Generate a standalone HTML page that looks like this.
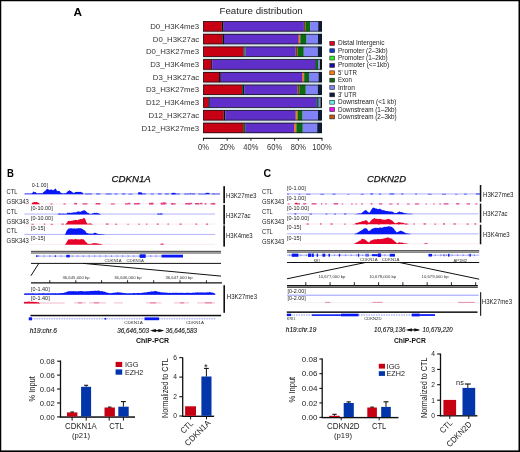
<!DOCTYPE html>
<html><head><meta charset="utf-8"><style>
html,body{margin:0;padding:0;background:#fff;}
body{width:520px;height:452px;overflow:hidden;position:relative;font-family:"Liberation Sans", sans-serif;}
svg{position:absolute;left:0;top:0;will-change:transform;}
</style></head><body>
<svg width="520" height="452" viewBox="0 0 520 452" font-family='"Liberation Sans", sans-serif'>
<rect x="0" y="0" width="520" height="452" fill="#fff"/>
<text x="73.50" y="15.80" font-size="11.2" text-anchor="start" font-weight="bold" font-style="normal" fill="#000" textLength="8.50" lengthAdjust="spacingAndGlyphs" >A</text>
<text x="219.50" y="13.75" font-size="9.7" text-anchor="start" font-weight="normal" font-style="normal" fill="#222" textLength="83.20" lengthAdjust="spacingAndGlyphs" >Feature distribution</text>
<rect x="203.20" y="21.00" width="118.80" height="112.30" fill="#d6e8e6" />
<text x="199.20" y="28.90" font-size="7.8" text-anchor="end" font-weight="normal" font-style="normal" fill="#333" >D0_H3K4me3</text>
<rect x="203.20" y="21.20" width="18.60" height="10.30" fill="#c80014" />
<rect x="221.80" y="21.20" width="1.80" height="10.30" fill="#101010" />
<rect x="223.60" y="21.20" width="80.30" height="10.30" fill="#602fc9" />
<rect x="303.90" y="21.20" width="1.60" height="10.30" fill="#8a3c08" />
<rect x="305.50" y="21.20" width="4.80" height="10.30" fill="#0a6a14" />
<rect x="310.30" y="21.20" width="7.90" height="10.30" fill="#8282f8" />
<rect x="318.20" y="21.20" width="3.80" height="10.30" fill="#0c1a3c" />
<rect x="203.55" y="21.55" width="118.10" height="9.60" fill="none" stroke="#151515" stroke-width="0.7"/>
<text x="199.20" y="41.60" font-size="7.8" text-anchor="end" font-weight="normal" font-style="normal" fill="#333" >D0_H3K27ac</text>
<rect x="203.20" y="33.90" width="19.20" height="10.30" fill="#c80014" />
<rect x="222.40" y="33.90" width="1.60" height="10.30" fill="#101010" />
<rect x="224.00" y="33.90" width="74.80" height="10.30" fill="#602fc9" />
<rect x="298.80" y="33.90" width="1.50" height="10.30" fill="#ff7a10" />
<rect x="300.30" y="33.90" width="6.30" height="10.30" fill="#0a6a14" />
<rect x="306.60" y="33.90" width="11.40" height="10.30" fill="#8282f8" />
<rect x="318.00" y="33.90" width="4.00" height="10.30" fill="#0c1a3c" />
<rect x="203.55" y="34.25" width="118.10" height="9.60" fill="none" stroke="#151515" stroke-width="0.7"/>
<text x="199.20" y="54.30" font-size="7.8" text-anchor="end" font-weight="normal" font-style="normal" fill="#333" >D0_H3K27me3</text>
<rect x="203.20" y="46.60" width="40.30" height="10.30" fill="#c80014" />
<rect x="243.50" y="46.60" width="1.00" height="10.30" fill="#0c1a3c" />
<rect x="244.50" y="46.60" width="1.00" height="10.30" fill="#0a6a14" />
<rect x="245.50" y="46.60" width="50.20" height="10.30" fill="#602fc9" />
<rect x="295.70" y="46.60" width="1.90" height="10.30" fill="#8a3c08" />
<rect x="297.60" y="46.60" width="6.20" height="10.30" fill="#0a6a14" />
<rect x="303.80" y="46.60" width="14.00" height="10.30" fill="#8282f8" />
<rect x="317.80" y="46.60" width="4.20" height="10.30" fill="#0c1a3c" />
<rect x="203.55" y="46.95" width="118.10" height="9.60" fill="none" stroke="#151515" stroke-width="0.7"/>
<text x="199.20" y="67.00" font-size="7.8" text-anchor="end" font-weight="normal" font-style="normal" fill="#333" >D3_H3K4me3</text>
<rect x="203.20" y="59.30" width="7.90" height="10.30" fill="#c80014" />
<rect x="211.10" y="59.30" width="1.10" height="10.30" fill="#101010" />
<rect x="212.20" y="59.30" width="103.10" height="10.30" fill="#602fc9" />
<rect x="315.30" y="59.30" width="0.70" height="10.30" fill="#0c1a3c" />
<rect x="316.00" y="59.30" width="2.50" height="10.30" fill="#0a6a14" />
<rect x="318.50" y="59.30" width="1.50" height="10.30" fill="#8282f8" />
<rect x="320.00" y="59.30" width="2.00" height="10.30" fill="#101010" />
<rect x="203.55" y="59.65" width="118.10" height="9.60" fill="none" stroke="#151515" stroke-width="0.7"/>
<text x="199.20" y="79.70" font-size="7.8" text-anchor="end" font-weight="normal" font-style="normal" fill="#333" >D3_H3K27ac</text>
<rect x="203.20" y="72.00" width="15.80" height="10.30" fill="#c80014" />
<rect x="219.00" y="72.00" width="1.80" height="10.30" fill="#101010" />
<rect x="220.80" y="72.00" width="81.80" height="10.30" fill="#602fc9" />
<rect x="302.60" y="72.00" width="1.60" height="10.30" fill="#ff7a10" />
<rect x="304.20" y="72.00" width="4.80" height="10.30" fill="#0a6a14" />
<rect x="309.00" y="72.00" width="9.50" height="10.30" fill="#8282f8" />
<rect x="318.50" y="72.00" width="3.50" height="10.30" fill="#0c1a3c" />
<rect x="203.55" y="72.35" width="118.10" height="9.60" fill="none" stroke="#151515" stroke-width="0.7"/>
<text x="199.20" y="92.40" font-size="7.8" text-anchor="end" font-weight="normal" font-style="normal" fill="#333" >D3_H3K27me3</text>
<rect x="203.20" y="84.70" width="38.80" height="10.30" fill="#c80014" />
<rect x="242.00" y="84.70" width="1.00" height="10.30" fill="#0a6a14" />
<rect x="243.00" y="84.70" width="1.20" height="10.30" fill="#0c1a3c" />
<rect x="244.20" y="84.70" width="53.30" height="10.30" fill="#602fc9" />
<rect x="297.50" y="84.70" width="1.90" height="10.30" fill="#8a3c08" />
<rect x="299.40" y="84.70" width="6.40" height="10.30" fill="#0a6a14" />
<rect x="305.80" y="84.70" width="12.00" height="10.30" fill="#8282f8" />
<rect x="317.80" y="84.70" width="4.20" height="10.30" fill="#0c1a3c" />
<rect x="203.55" y="85.05" width="118.10" height="9.60" fill="none" stroke="#151515" stroke-width="0.7"/>
<text x="199.20" y="105.10" font-size="7.8" text-anchor="end" font-weight="normal" font-style="normal" fill="#333" >D12_H3K4me3</text>
<rect x="203.20" y="97.40" width="5.10" height="10.30" fill="#c80014" />
<rect x="208.30" y="97.40" width="1.50" height="10.30" fill="#101010" />
<rect x="209.80" y="97.40" width="107.10" height="10.30" fill="#602fc9" />
<rect x="316.90" y="97.40" width="1.90" height="10.30" fill="#0a6a14" />
<rect x="318.80" y="97.40" width="1.70" height="10.30" fill="#8282f8" />
<rect x="320.50" y="97.40" width="1.50" height="10.30" fill="#101010" />
<rect x="203.55" y="97.75" width="118.10" height="9.60" fill="none" stroke="#151515" stroke-width="0.7"/>
<text x="199.20" y="117.80" font-size="7.8" text-anchor="end" font-weight="normal" font-style="normal" fill="#333" >D12_H3K27ac</text>
<rect x="203.20" y="110.10" width="20.40" height="10.30" fill="#c80014" />
<rect x="223.60" y="110.10" width="1.80" height="10.30" fill="#101010" />
<rect x="225.40" y="110.10" width="70.40" height="10.30" fill="#602fc9" />
<rect x="295.80" y="110.10" width="1.70" height="10.30" fill="#ff7a10" />
<rect x="297.50" y="110.10" width="5.10" height="10.30" fill="#0a6a14" />
<rect x="302.60" y="110.10" width="15.40" height="10.30" fill="#8282f8" />
<rect x="318.00" y="110.10" width="4.00" height="10.30" fill="#0c1a3c" />
<rect x="203.55" y="110.45" width="118.10" height="9.60" fill="none" stroke="#151515" stroke-width="0.7"/>
<text x="199.20" y="130.50" font-size="7.8" text-anchor="end" font-weight="normal" font-style="normal" fill="#333" >D12_H3K27me3</text>
<rect x="203.20" y="122.80" width="39.90" height="10.30" fill="#c80014" />
<rect x="243.10" y="122.80" width="1.20" height="10.30" fill="#0a6a14" />
<rect x="244.30" y="122.80" width="1.20" height="10.30" fill="#101010" />
<rect x="245.50" y="122.80" width="49.10" height="10.30" fill="#602fc9" />
<rect x="294.60" y="122.80" width="1.80" height="10.30" fill="#ff7a10" />
<rect x="296.40" y="122.80" width="6.40" height="10.30" fill="#0a6a14" />
<rect x="302.80" y="122.80" width="14.40" height="10.30" fill="#8282f8" />
<rect x="317.20" y="122.80" width="4.80" height="10.30" fill="#0c1a3c" />
<rect x="203.55" y="123.15" width="118.10" height="9.60" fill="none" stroke="#151515" stroke-width="0.7"/>
<line x1="202.90" y1="138.40" x2="322.30" y2="138.40" stroke="#222" stroke-width="1.2" />
<line x1="203.50" y1="138.00" x2="203.50" y2="140.70" stroke="#222" stroke-width="1.0" />
<text x="203.50" y="149.80" font-size="8.2" text-anchor="middle" font-weight="normal" font-style="normal" fill="#333" textLength="10.90" lengthAdjust="spacingAndGlyphs" >0%</text>
<line x1="227.20" y1="138.00" x2="227.20" y2="140.70" stroke="#222" stroke-width="1.0" />
<text x="227.20" y="149.80" font-size="8.2" text-anchor="middle" font-weight="normal" font-style="normal" fill="#333" textLength="15.10" lengthAdjust="spacingAndGlyphs" >20%</text>
<line x1="250.90" y1="138.00" x2="250.90" y2="140.70" stroke="#222" stroke-width="1.0" />
<text x="250.90" y="149.80" font-size="8.2" text-anchor="middle" font-weight="normal" font-style="normal" fill="#333" textLength="15.10" lengthAdjust="spacingAndGlyphs" >40%</text>
<line x1="274.60" y1="138.00" x2="274.60" y2="140.70" stroke="#222" stroke-width="1.0" />
<text x="274.60" y="149.80" font-size="8.2" text-anchor="middle" font-weight="normal" font-style="normal" fill="#333" textLength="15.10" lengthAdjust="spacingAndGlyphs" >60%</text>
<line x1="298.30" y1="138.00" x2="298.30" y2="140.70" stroke="#222" stroke-width="1.0" />
<text x="298.30" y="149.80" font-size="8.2" text-anchor="middle" font-weight="normal" font-style="normal" fill="#333" textLength="15.10" lengthAdjust="spacingAndGlyphs" >80%</text>
<line x1="322.00" y1="138.00" x2="322.00" y2="140.70" stroke="#222" stroke-width="1.0" />
<text x="322.00" y="149.80" font-size="8.2" text-anchor="middle" font-weight="normal" font-style="normal" fill="#333" textLength="19.40" lengthAdjust="spacingAndGlyphs" >100%</text>
<rect x="329.8" y="41.40" width="4.8" height="3.9" fill="#e0001a" stroke="#222" stroke-width="0.6"/>
<text x="338.00" y="45.40" font-size="6.6" text-anchor="start" font-weight="normal" font-style="normal" fill="#222" textLength="46.40" lengthAdjust="spacingAndGlyphs" >Distal Intergenic</text>
<rect x="329.8" y="48.76" width="4.8" height="3.9" fill="#0a3cc8" stroke="#222" stroke-width="0.6"/>
<text x="338.00" y="52.76" font-size="6.6" text-anchor="start" font-weight="normal" font-style="normal" fill="#222" textLength="49.70" lengthAdjust="spacingAndGlyphs" >Promoter (2–3kb)</text>
<rect x="329.8" y="56.12" width="4.8" height="3.9" fill="#33ee22" stroke="#222" stroke-width="0.6"/>
<text x="338.00" y="60.12" font-size="6.6" text-anchor="start" font-weight="normal" font-style="normal" fill="#222" textLength="49.70" lengthAdjust="spacingAndGlyphs" >Promoter (1–2kb)</text>
<rect x="329.8" y="63.48" width="4.8" height="3.9" fill="#1c0aa0" stroke="#222" stroke-width="0.6"/>
<text x="338.00" y="67.48" font-size="6.6" text-anchor="start" font-weight="normal" font-style="normal" fill="#222" textLength="51.10" lengthAdjust="spacingAndGlyphs" >Promoter (&lt;=1kb)</text>
<rect x="329.8" y="70.84" width="4.8" height="3.9" fill="#ff7a10" stroke="#222" stroke-width="0.6"/>
<text x="338.00" y="74.84" font-size="6.6" text-anchor="start" font-weight="normal" font-style="normal" fill="#222" textLength="18.90" lengthAdjust="spacingAndGlyphs" >5' UTR</text>
<rect x="329.8" y="78.20" width="4.8" height="3.9" fill="#0a6a14" stroke="#222" stroke-width="0.6"/>
<text x="338.00" y="82.20" font-size="6.6" text-anchor="start" font-weight="normal" font-style="normal" fill="#222" textLength="13.90" lengthAdjust="spacingAndGlyphs" >Exon</text>
<rect x="329.8" y="85.56" width="4.8" height="3.9" fill="#8282f8" stroke="#222" stroke-width="0.6"/>
<text x="338.00" y="89.56" font-size="6.6" text-anchor="start" font-weight="normal" font-style="normal" fill="#222" textLength="16.90" lengthAdjust="spacingAndGlyphs" >Intron</text>
<rect x="329.8" y="92.92" width="4.8" height="3.9" fill="#0c1a3c" stroke="#222" stroke-width="0.6"/>
<text x="338.00" y="96.92" font-size="6.6" text-anchor="start" font-weight="normal" font-style="normal" fill="#222" textLength="18.50" lengthAdjust="spacingAndGlyphs" >3' UTR</text>
<rect x="329.8" y="100.28" width="4.8" height="3.9" fill="#66f0f0" stroke="#222" stroke-width="0.6"/>
<text x="338.00" y="104.28" font-size="6.6" text-anchor="start" font-weight="normal" font-style="normal" fill="#222" textLength="58.30" lengthAdjust="spacingAndGlyphs" >Downstream (&lt;1 kb)</text>
<rect x="329.8" y="107.64" width="4.8" height="3.9" fill="#f010f0" stroke="#222" stroke-width="0.6"/>
<text x="338.00" y="111.64" font-size="6.6" text-anchor="start" font-weight="normal" font-style="normal" fill="#222" textLength="58.70" lengthAdjust="spacingAndGlyphs" >Downstream (1–2kb)</text>
<rect x="329.8" y="115.00" width="4.8" height="3.9" fill="#cc5510" stroke="#222" stroke-width="0.6"/>
<text x="338.00" y="119.00" font-size="6.6" text-anchor="start" font-weight="normal" font-style="normal" fill="#222" textLength="58.70" lengthAdjust="spacingAndGlyphs" >Downstream (2–3kb)</text>
<text x="7.10" y="176.60" font-size="11" text-anchor="start" font-weight="bold" font-style="normal" fill="#000" textLength="6.90" lengthAdjust="spacingAndGlyphs" >B</text>
<text x="111.50" y="181.80" font-size="9.6" text-anchor="start" font-weight="normal" font-style="italic" fill="#111" textLength="39.30" lengthAdjust="spacingAndGlyphs" stroke="#111" stroke-width="0.25" >CDKN1A</text>
<text x="6.60" y="194.30" font-size="6.4" text-anchor="start" font-weight="normal" font-style="normal" fill="#222" textLength="10.80" lengthAdjust="spacingAndGlyphs" >CTL</text>
<text x="6.60" y="203.90" font-size="6.4" text-anchor="start" font-weight="normal" font-style="normal" fill="#222" textLength="22.30" lengthAdjust="spacingAndGlyphs" >GSK343</text>
<text x="6.60" y="214.00" font-size="6.4" text-anchor="start" font-weight="normal" font-style="normal" fill="#222" textLength="10.80" lengthAdjust="spacingAndGlyphs" >CTL</text>
<text x="6.60" y="223.70" font-size="6.4" text-anchor="start" font-weight="normal" font-style="normal" fill="#222" textLength="22.30" lengthAdjust="spacingAndGlyphs" >GSK343</text>
<text x="6.60" y="233.30" font-size="6.4" text-anchor="start" font-weight="normal" font-style="normal" fill="#222" textLength="10.80" lengthAdjust="spacingAndGlyphs" >CTL</text>
<text x="6.60" y="242.90" font-size="6.4" text-anchor="start" font-weight="normal" font-style="normal" fill="#222" textLength="22.30" lengthAdjust="spacingAndGlyphs" >GSK343</text>
<text x="31.70" y="186.60" font-size="5.0" text-anchor="start" font-weight="normal" font-style="normal" fill="#222" textLength="16.30" lengthAdjust="spacingAndGlyphs" >0-1.00]</text>
<text x="31.00" y="210.00" font-size="5.0" text-anchor="start" font-weight="normal" font-style="normal" fill="#222" textLength="21.70" lengthAdjust="spacingAndGlyphs" >[0-10.00]</text>
<text x="31.00" y="219.80" font-size="5.0" text-anchor="start" font-weight="normal" font-style="normal" fill="#222" textLength="21.70" lengthAdjust="spacingAndGlyphs" >[0-10.00]</text>
<text x="31.00" y="229.60" font-size="5.0" text-anchor="start" font-weight="normal" font-style="normal" fill="#222" textLength="14.00" lengthAdjust="spacingAndGlyphs" >[0-15]</text>
<text x="31.00" y="239.60" font-size="5.0" text-anchor="start" font-weight="normal" font-style="normal" fill="#222" textLength="14.00" lengthAdjust="spacingAndGlyphs" >[0-15]</text>
<line x1="24.30" y1="193.85" x2="215.00" y2="193.85" stroke="#9a9cff" stroke-width="0.75" />
<line x1="24.30" y1="203.90" x2="215.00" y2="203.90" stroke="#f6dde6" stroke-width="0.6" />
<line x1="24.30" y1="214.05" x2="215.00" y2="214.05" stroke="#9a9cff" stroke-width="0.75" />
<line x1="24.30" y1="224.10" x2="215.00" y2="224.10" stroke="#f6dde6" stroke-width="0.6" />
<line x1="24.30" y1="234.45" x2="215.00" y2="234.45" stroke="#9a9cff" stroke-width="0.75" />
<line x1="24.30" y1="244.40" x2="215.00" y2="244.40" stroke="#f6dde6" stroke-width="0.6" />
<path d="M24.30,194.20L24.30,194.20L24.80,193.73L25.30,193.47L25.80,193.51L26.30,193.69L26.80,193.60L27.30,193.62L27.80,193.55L28.30,193.50L28.80,193.75L29.30,193.77L29.80,193.48L30.30,193.62L30.80,193.51L31.30,193.78L31.80,193.36L32.30,192.75L32.80,192.64L33.30,191.85L33.80,191.51L34.30,192.00L34.80,192.20L35.30,192.10L35.80,192.24L36.30,193.07L36.80,193.37L37.30,193.25L37.80,193.48L38.30,193.37L38.80,193.24L39.30,193.20L39.80,193.36L40.30,193.36L40.80,193.37L41.30,193.22L41.80,193.33L42.30,193.49L42.80,192.70L43.30,192.37L43.80,191.81L44.30,191.66L44.80,190.80L45.30,190.51L45.80,190.58L46.30,189.85L46.80,188.87L47.30,188.77L47.80,188.97L48.30,189.61L48.80,189.54L49.30,189.70L49.80,189.99L50.30,189.80L50.80,189.55L51.30,189.50L51.80,189.63L52.30,189.67L52.80,190.20L53.30,190.27L53.80,189.75L54.30,189.53L54.80,189.23L55.30,188.55L55.80,188.82L56.30,189.74L56.80,190.58L57.30,191.04L57.80,191.16L58.30,190.95L58.80,191.06L59.30,191.08L59.80,191.37L60.30,192.24L60.80,192.83L61.30,193.04L61.80,193.17L62.30,193.36L62.80,193.45L63.30,193.56L63.80,193.40L64.30,193.17L64.80,193.27L65.30,193.38L65.80,192.93L66.30,192.88L66.80,192.29L67.30,191.60L67.80,191.42L68.30,191.09L68.80,190.81L69.30,190.25L69.80,190.18L70.30,191.06L70.80,190.90L71.30,191.31L71.80,191.77L72.30,192.36L72.80,192.51L73.30,192.69L73.80,192.66L74.30,192.74L74.80,192.83L75.30,192.10L75.80,192.05L76.30,192.12L76.80,191.84L77.30,191.75L77.80,191.89L78.30,192.06L78.80,192.11L79.30,192.03L79.80,191.87L80.30,191.79L80.80,192.08L81.30,192.13L81.80,192.33L82.30,192.52L82.80,192.98L83.30,193.68L83.80,194.07L84.00,194.20Z" fill="#0818f4"/>
<rect x="84.99" y="193.45" width="7.14" height="1.05" fill="#4a58f2"/>
<rect x="96.04" y="193.38" width="4.30" height="1.12" fill="#4a58f2"/>
<rect x="105.57" y="193.50" width="6.07" height="1.00" fill="#4a58f2"/>
<rect x="114.59" y="193.55" width="3.02" height="0.95" fill="#4a58f2"/>
<rect x="121.95" y="193.38" width="3.42" height="1.12" fill="#4a58f2"/>
<rect x="128.30" y="193.68" width="4.40" height="0.82" fill="#4a58f2"/>
<rect x="138.68" y="193.35" width="7.43" height="1.15" fill="#4a58f2"/>
<rect x="150.58" y="193.57" width="3.20" height="0.93" fill="#4a58f2"/>
<rect x="157.77" y="193.32" width="3.69" height="1.18" fill="#4a58f2"/>
<rect x="164.94" y="193.37" width="3.93" height="1.13" fill="#4a58f2"/>
<rect x="171.37" y="193.52" width="8.57" height="0.98" fill="#4a58f2"/>
<rect x="184.15" y="193.51" width="5.06" height="0.99" fill="#4a58f2"/>
<rect x="191.95" y="193.35" width="3.22" height="1.15" fill="#4a58f2"/>
<rect x="198.11" y="193.62" width="7.68" height="0.88" fill="#4a58f2"/>
<rect x="211.67" y="193.40" width="8.36" height="1.10" fill="#4a58f2"/>
<path d="M137.50,194.20L137.50,194.20L138.00,193.36L138.50,192.17L139.00,192.28L139.50,192.14L140.00,192.12L140.50,192.46L141.00,192.49L141.50,192.00L142.00,193.34L142.50,194.20L142.50,194.20Z" fill="#0818f4"/>
<path d="M171.00,194.20L171.00,194.20L171.50,193.61L172.00,192.77L172.50,192.88L173.00,192.74L173.50,192.72L174.00,193.06L174.50,193.09L175.00,192.60L175.50,193.60L176.00,194.20L176.00,194.20Z" fill="#0818f4"/>
<path d="M205.00,194.20L205.00,194.20L205.50,193.61L206.00,192.77L206.50,192.88L207.00,192.74L207.50,192.72L208.00,193.06L208.50,193.09L209.00,192.60L209.50,193.60L210.00,194.20L210.00,194.20Z" fill="#0818f4"/>
<path d="M189.00,194.20L189.00,194.20L189.50,193.78L190.00,193.17L190.50,193.28L191.00,193.14L191.50,193.66L192.00,194.20L192.00,194.20Z" fill="#0818f4"/>
<path d="M31.50,204.20L31.50,204.20L32.00,203.18L32.50,202.33L33.00,202.75L33.50,202.61L34.00,202.04L34.50,201.98L35.00,201.90L35.50,202.16L36.00,202.02L36.50,202.06L37.00,202.11L37.50,202.40L38.00,202.64L38.50,203.05L39.00,203.28L39.50,203.66L40.00,204.20L40.00,204.20Z" fill="#e6002a"/>
<rect x="50.54" y="203.48" width="1.99" height="1.02" fill="#e0407a"/>
<rect x="63.52" y="203.42" width="2.14" height="1.08" fill="#e0407a"/>
<rect x="74.23" y="202.88" width="2.71" height="1.62" fill="#e0407a"/>
<rect x="82.56" y="203.28" width="4.86" height="1.22" fill="#e0407a"/>
<rect x="95.62" y="203.02" width="4.76" height="1.48" fill="#e0407a"/>
<rect x="110.85" y="203.47" width="3.98" height="1.03" fill="#e0407a"/>
<rect x="125.00" y="203.28" width="3.56" height="1.22" fill="#e0407a"/>
<rect x="133.90" y="203.09" width="4.47" height="1.41" fill="#e0407a"/>
<rect x="148.94" y="202.83" width="4.21" height="1.67" fill="#e0407a"/>
<rect x="161.11" y="203.07" width="3.94" height="1.43" fill="#e0407a"/>
<rect x="170.86" y="203.28" width="4.85" height="1.22" fill="#e0407a"/>
<rect x="185.18" y="203.04" width="4.84" height="1.46" fill="#e0407a"/>
<rect x="195.02" y="203.03" width="4.39" height="1.47" fill="#e0407a"/>
<rect x="204.70" y="203.13" width="1.67" height="1.37" fill="#e0407a"/>
<rect x="210.60" y="203.15" width="4.74" height="1.35" fill="#e0407a"/>
<path d="M127.50,204.20L127.50,204.20L128.00,203.53L128.50,202.84L129.00,202.66L129.50,202.81L130.00,202.86L130.50,203.45L131.00,204.20L131.00,204.20Z" fill="#e2408e"/>
<path d="M137.00,204.20L137.00,204.20L137.50,203.57L138.00,202.94L138.50,202.76L139.00,202.91L139.50,202.96L140.00,203.49L140.50,204.20L140.50,204.20Z" fill="#e2408e"/>
<path d="M150.50,204.20L150.50,204.20L151.00,203.53L151.50,202.84L152.00,202.66L152.50,202.81L153.00,202.86L153.50,203.45L154.00,204.20L154.00,204.20Z" fill="#e2408e"/>
<path d="M160.00,204.20L160.00,204.20L160.50,203.44L161.00,202.64L161.50,202.46L162.00,202.61L162.50,202.66L163.00,202.46L163.50,202.15L164.00,202.22L164.50,202.24L165.00,202.57L165.50,202.38L166.00,202.53L166.50,203.48L167.00,204.20L167.00,204.20Z" fill="#e2408e"/>
<path d="M171.00,204.20L171.00,204.20L171.50,203.57L172.00,202.94L172.50,202.76L173.00,202.91L173.50,203.65L174.00,204.20L174.00,204.20Z" fill="#e2408e"/>
<path d="M188.50,204.20L188.50,204.20L189.00,203.53L189.50,202.84L190.00,202.66L190.50,202.81L191.00,202.86L191.50,202.66L192.00,203.20L192.50,204.20L192.50,204.20Z" fill="#e2408e"/>
<path d="M199.50,204.20L199.50,204.20L200.00,203.53L200.50,202.84L201.00,202.66L201.50,202.81L202.00,202.86L202.50,203.45L203.00,204.20L203.00,204.20Z" fill="#e2408e"/>
<path d="M212.50,204.20L212.50,204.20L213.00,203.53L213.50,202.84L214.00,202.66L214.50,203.57L215.00,204.20L215.00,204.20Z" fill="#e2408e"/>
<path d="M57.70,214.40L57.70,214.40L58.20,213.65L58.70,213.60L59.20,213.58L59.70,213.51L60.20,213.60L60.70,213.52L61.20,213.90L61.70,213.71L62.20,213.51L62.70,213.64L63.20,213.53L63.70,213.86L64.20,213.71L64.70,213.81L65.20,213.68L65.70,213.67L66.20,213.90L66.70,213.47L67.20,213.02L67.70,212.61L68.20,212.67L68.70,213.01L69.20,212.60L69.70,212.97L70.20,212.65L70.70,212.92L71.20,212.96L71.70,212.41L72.20,212.78L72.70,212.75L73.20,212.26L73.70,212.30L74.20,212.62L74.70,212.19L75.20,212.42L75.70,212.30L76.20,212.46L76.70,211.83L77.20,211.79L77.70,211.43L78.20,211.35L78.70,211.67L79.20,211.60L79.70,211.69L80.20,211.67L80.70,211.68L81.20,211.44L81.70,211.06L82.20,211.22L82.70,210.61L83.20,210.61L83.70,210.42L84.20,209.91L84.70,210.42L85.20,210.83L85.70,211.11L86.20,211.48L86.70,212.37L87.20,212.22L87.70,213.05L88.20,212.88L88.70,213.09L89.20,213.79L89.70,213.65L90.20,213.90L90.70,213.73L91.20,213.88L91.70,213.79L92.20,213.64L92.70,213.09L93.20,213.44L93.70,213.01L94.20,212.81L94.70,212.73L95.20,213.01L95.70,212.93L96.20,212.83L96.70,212.77L97.20,213.28L97.70,212.99L98.20,213.09L98.70,213.25L99.20,213.85L99.70,213.66L100.20,214.10L100.70,214.25L101.00,214.40Z" fill="#0818f4"/>
<path d="M157.00,214.40L157.00,214.40L157.50,213.87L158.00,213.33L158.50,213.51L159.00,213.63L159.50,213.77L160.00,213.41L160.50,213.52L161.00,213.36L161.50,213.57L162.00,213.35L162.50,214.01L163.00,214.40L163.00,214.40Z" fill="#0818f4"/>
<path d="M65.00,224.40L65.00,224.40L65.50,224.08L66.00,223.84L66.50,223.15L67.00,222.72L67.50,221.66L68.00,220.98L68.50,221.12L69.00,220.80L69.50,221.04L70.00,220.77L70.50,220.96L71.00,220.91L71.50,220.68L72.00,220.40L72.50,220.76L73.00,220.63L73.50,220.32L74.00,220.06L74.50,220.22L75.00,220.26L75.50,219.86L76.00,220.37L76.50,219.83L77.00,220.13L77.50,220.16L78.00,220.13L78.50,219.84L79.00,219.36L79.50,219.57L80.00,219.15L80.50,219.04L81.00,219.13L81.50,218.95L82.00,219.16L82.50,218.91L83.00,218.58L83.50,218.04L84.00,217.94L84.50,218.24L85.00,218.63L85.50,219.87L86.00,221.52L86.50,222.22L87.00,223.28L87.50,223.72L88.00,223.77L88.50,223.69L89.00,223.42L89.50,223.38L90.00,223.53L90.50,223.27L91.00,223.82L91.50,223.81L92.00,223.82L92.50,224.15L93.00,224.40L93.00,224.40Z" fill="#e6002a"/>
<rect x="105.95" y="223.45" width="2.53" height="1.25" fill="#e2408e"/>
<rect x="115.14" y="223.69" width="2.03" height="1.01" fill="#e2408e"/>
<rect x="127.41" y="223.80" width="1.38" height="0.90" fill="#e2408e"/>
<rect x="138.35" y="223.67" width="1.51" height="1.03" fill="#e2408e"/>
<rect x="146.06" y="223.54" width="1.32" height="1.16" fill="#e2408e"/>
<rect x="156.75" y="223.53" width="1.92" height="1.17" fill="#e2408e"/>
<rect x="167.54" y="223.51" width="1.28" height="1.19" fill="#e2408e"/>
<rect x="179.53" y="223.59" width="2.12" height="1.11" fill="#e2408e"/>
<rect x="195.42" y="223.52" width="1.71" height="1.18" fill="#e2408e"/>
<rect x="206.08" y="223.57" width="2.00" height="1.13" fill="#e2408e"/>
<rect x="31.42" y="223.81" width="2.38" height="0.89" fill="#e2408e"/>
<rect x="43.79" y="223.56" width="1.47" height="1.14" fill="#e2408e"/>
<rect x="50.72" y="223.82" width="2.26" height="0.88" fill="#e2408e"/>
<rect x="61.51" y="223.52" width="2.21" height="1.18" fill="#e2408e"/>
<path d="M64.50,234.80L64.50,234.80L65.00,234.38L65.50,233.52L66.00,232.52L66.50,230.68L67.00,230.42L67.50,229.70L68.00,228.63L68.50,228.85L69.00,228.43L69.50,228.38L70.00,228.23L70.50,228.22L71.00,228.42L71.50,228.05L72.00,228.51L72.50,228.44L73.00,228.59L73.50,228.47L74.00,228.42L74.50,228.16L75.00,228.51L75.50,228.70L76.00,228.64L76.50,228.13L77.00,228.61L77.50,228.20L78.00,228.27L78.50,228.13L79.00,228.35L79.50,228.16L80.00,228.30L80.50,228.29L81.00,228.21L81.50,228.48L82.00,228.81L82.50,229.21L83.00,229.04L83.50,229.67L84.00,230.21L84.50,230.15L85.00,230.75L85.50,231.33L86.00,231.90L86.50,232.93L87.00,233.05L87.50,232.91L88.00,233.52L88.50,233.27L89.00,233.79L89.50,233.56L90.00,233.68L90.50,233.49L91.00,233.51L91.50,233.67L92.00,233.81L92.50,233.78L93.00,233.40L93.50,233.26L94.00,233.36L94.50,232.71L95.00,232.80L95.50,232.80L96.00,233.22L96.50,233.33L97.00,233.59L97.50,233.64L98.00,233.94L98.50,234.04L99.00,234.10L99.50,233.93L100.00,233.95L100.50,234.28L101.00,234.22L101.50,234.34L102.00,234.20L102.50,234.15L103.00,234.41L103.50,234.29L104.00,234.45L104.50,234.60L105.00,234.80L105.00,234.80Z" fill="#0818f4"/>
<path d="M65.00,244.70L65.00,244.70L65.50,244.00L66.00,243.35L66.50,242.73L67.00,241.36L67.50,240.93L68.00,239.70L68.50,239.31L69.00,239.65L69.50,239.22L70.00,239.03L70.50,239.43L71.00,239.27L71.50,239.13L72.00,239.33L72.50,239.21L73.00,239.61L73.50,239.52L74.00,239.57L74.50,239.30L75.00,239.01L75.50,239.18L76.00,239.04L76.50,239.32L77.00,239.15L77.50,239.59L78.00,239.53L78.50,239.35L79.00,239.36L79.50,239.45L80.00,239.55L80.50,239.34L81.00,239.27L81.50,239.28L82.00,239.01L82.50,239.43L83.00,239.07L83.50,239.37L84.00,240.17L84.50,240.27L85.00,240.87L85.50,241.82L86.00,242.25L86.50,242.33L87.00,243.18L87.50,243.27L88.00,243.93L88.50,243.76L89.00,243.71L89.50,243.99L90.00,244.04L90.50,243.95L91.00,243.61L91.50,243.86L92.00,243.75L92.50,243.44L93.00,243.11L93.50,243.35L94.00,243.29L94.50,243.08L95.00,243.34L95.50,243.12L96.00,243.43L96.50,243.23L97.00,243.09L97.50,243.70L98.00,243.47L98.50,243.54L99.00,243.91L99.50,243.93L100.00,243.66L100.50,243.79L101.00,244.24L101.50,244.19L102.00,244.40L102.50,244.55L103.00,244.70L103.00,244.70Z" fill="#e6002a"/>
<path d="M160.00,244.70L160.00,244.70L160.50,244.07L161.00,243.54L161.50,243.45L162.00,243.68L162.50,243.31L163.00,243.31L163.50,244.04L164.00,244.70L164.00,244.70Z" fill="#e2408e"/>
<rect x="223.30" y="186.20" width="1.70" height="17.00" fill="#111" />
<rect x="223.30" y="204.80" width="1.70" height="19.80" fill="#111" />
<rect x="223.30" y="225.40" width="1.70" height="21.20" fill="#111" />
<text x="226.00" y="198.30" font-size="6.3" text-anchor="start" font-weight="normal" font-style="normal" fill="#222" textLength="30.40" lengthAdjust="spacingAndGlyphs" >H3K27me3</text>
<text x="226.00" y="217.60" font-size="6.3" text-anchor="start" font-weight="normal" font-style="normal" fill="#222" textLength="24.60" lengthAdjust="spacingAndGlyphs" >H3K27ac</text>
<text x="226.00" y="237.60" font-size="6.3" text-anchor="start" font-weight="normal" font-style="normal" fill="#222" textLength="26.60" lengthAdjust="spacingAndGlyphs" >H3K4me3</text>
<rect x="31.00" y="250.80" width="190.00" height="1.50" fill="#5a5a5a" />
<rect x="31.00" y="252.30" width="190.00" height="1.50" fill="#8a8a8a" />
<line x1="36.10" y1="256.10" x2="183.00" y2="256.10" stroke="#a0a4ff" stroke-width="0.9" />
<path d="M38.00,255.20 L39.20,256.10 L38.00,257.00" fill="none" stroke="#5a64f4" stroke-width="0.6"/>
<path d="M43.60,255.20 L44.80,256.10 L43.60,257.00" fill="none" stroke="#5a64f4" stroke-width="0.6"/>
<path d="M49.20,255.20 L50.40,256.10 L49.20,257.00" fill="none" stroke="#5a64f4" stroke-width="0.6"/>
<path d="M54.80,255.20 L56.00,256.10 L54.80,257.00" fill="none" stroke="#5a64f4" stroke-width="0.6"/>
<path d="M60.40,255.20 L61.60,256.10 L60.40,257.00" fill="none" stroke="#5a64f4" stroke-width="0.6"/>
<path d="M66.00,255.20 L67.20,256.10 L66.00,257.00" fill="none" stroke="#5a64f4" stroke-width="0.6"/>
<path d="M71.60,255.20 L72.80,256.10 L71.60,257.00" fill="none" stroke="#5a64f4" stroke-width="0.6"/>
<path d="M77.20,255.20 L78.40,256.10 L77.20,257.00" fill="none" stroke="#5a64f4" stroke-width="0.6"/>
<path d="M82.80,255.20 L84.00,256.10 L82.80,257.00" fill="none" stroke="#5a64f4" stroke-width="0.6"/>
<path d="M88.40,255.20 L89.60,256.10 L88.40,257.00" fill="none" stroke="#5a64f4" stroke-width="0.6"/>
<path d="M94.00,255.20 L95.20,256.10 L94.00,257.00" fill="none" stroke="#5a64f4" stroke-width="0.6"/>
<path d="M99.60,255.20 L100.80,256.10 L99.60,257.00" fill="none" stroke="#5a64f4" stroke-width="0.6"/>
<path d="M105.20,255.20 L106.40,256.10 L105.20,257.00" fill="none" stroke="#5a64f4" stroke-width="0.6"/>
<path d="M110.80,255.20 L112.00,256.10 L110.80,257.00" fill="none" stroke="#5a64f4" stroke-width="0.6"/>
<path d="M116.40,255.20 L117.60,256.10 L116.40,257.00" fill="none" stroke="#5a64f4" stroke-width="0.6"/>
<path d="M122.00,255.20 L123.20,256.10 L122.00,257.00" fill="none" stroke="#5a64f4" stroke-width="0.6"/>
<path d="M127.60,255.20 L128.80,256.10 L127.60,257.00" fill="none" stroke="#5a64f4" stroke-width="0.6"/>
<path d="M133.20,255.20 L134.40,256.10 L133.20,257.00" fill="none" stroke="#5a64f4" stroke-width="0.6"/>
<path d="M138.80,255.20 L140.00,256.10 L138.80,257.00" fill="none" stroke="#5a64f4" stroke-width="0.6"/>
<path d="M144.40,255.20 L145.60,256.10 L144.40,257.00" fill="none" stroke="#5a64f4" stroke-width="0.6"/>
<path d="M150.00,255.20 L151.20,256.10 L150.00,257.00" fill="none" stroke="#5a64f4" stroke-width="0.6"/>
<path d="M155.60,255.20 L156.80,256.10 L155.60,257.00" fill="none" stroke="#5a64f4" stroke-width="0.6"/>
<path d="M161.20,255.20 L162.40,256.10 L161.20,257.00" fill="none" stroke="#5a64f4" stroke-width="0.6"/>
<path d="M166.80,255.20 L168.00,256.10 L166.80,257.00" fill="none" stroke="#5a64f4" stroke-width="0.6"/>
<path d="M172.40,255.20 L173.60,256.10 L172.40,257.00" fill="none" stroke="#5a64f4" stroke-width="0.6"/>
<path d="M178.00,255.20 L179.20,256.10 L178.00,257.00" fill="none" stroke="#5a64f4" stroke-width="0.6"/>
<rect x="36.00" y="255.30" width="1.50" height="1.60" fill="#0818f4" />
<rect x="54.80" y="255.50" width="1.20" height="1.20" fill="#0818f4" />
<rect x="66.40" y="254.80" width="3.40" height="2.60" fill="#0818f4" />
<rect x="139.70" y="254.30" width="5.90" height="3.60" fill="#0818f4" />
<rect x="161.70" y="254.70" width="21.30" height="2.80" fill="#0818f4" />
<text x="104.40" y="262.20" font-size="4.2" text-anchor="start" font-weight="normal" font-style="normal" fill="#333" textLength="17.30" lengthAdjust="spacingAndGlyphs" >CDKN1A</text>
<text x="126.40" y="262.20" font-size="4.2" text-anchor="start" font-weight="normal" font-style="normal" fill="#333" textLength="17.60" lengthAdjust="spacingAndGlyphs" >CDKN1A</text>
<line x1="31.00" y1="263.40" x2="221.00" y2="263.40" stroke="#111" stroke-width="1.0" />
<line x1="38.80" y1="263.40" x2="30.90" y2="275.80" stroke="#111" stroke-width="1.0" />
<line x1="83.50" y1="263.40" x2="221.00" y2="276.10" stroke="#111" stroke-width="1.0" />
<line x1="31.00" y1="282.90" x2="222.00" y2="282.90" stroke="#111" stroke-width="1.1" />
<line x1="49.80" y1="280.20" x2="49.80" y2="282.90" stroke="#111" stroke-width="0.9" />
<line x1="75.80" y1="280.20" x2="75.80" y2="282.90" stroke="#111" stroke-width="0.9" />
<line x1="101.60" y1="280.20" x2="101.60" y2="282.90" stroke="#111" stroke-width="0.9" />
<line x1="127.60" y1="280.20" x2="127.60" y2="282.90" stroke="#111" stroke-width="0.9" />
<line x1="153.70" y1="280.20" x2="153.70" y2="282.90" stroke="#111" stroke-width="0.9" />
<line x1="180.00" y1="280.20" x2="180.00" y2="282.90" stroke="#111" stroke-width="0.9" />
<line x1="206.40" y1="280.20" x2="206.40" y2="282.90" stroke="#111" stroke-width="0.9" />
<text x="76.10" y="279.10" font-size="4.4" text-anchor="middle" font-weight="normal" font-style="normal" fill="#333" textLength="27.30" lengthAdjust="spacingAndGlyphs" >36,645,000 bp</text>
<text x="127.90" y="279.10" font-size="4.4" text-anchor="middle" font-weight="normal" font-style="normal" fill="#333" textLength="27.30" lengthAdjust="spacingAndGlyphs" >36,646,000 bp</text>
<text x="179.10" y="279.10" font-size="4.4" text-anchor="middle" font-weight="normal" font-style="normal" fill="#333" textLength="27.30" lengthAdjust="spacingAndGlyphs" >36,647,000 bp</text>
<text x="31.10" y="291.10" font-size="5.0" text-anchor="start" font-weight="normal" font-style="normal" fill="#222" textLength="18.60" lengthAdjust="spacingAndGlyphs" >[0-1.40]</text>
<text x="31.10" y="299.50" font-size="5.0" text-anchor="start" font-weight="normal" font-style="normal" fill="#222" textLength="18.60" lengthAdjust="spacingAndGlyphs" >[0-1.40]</text>
<line x1="24.00" y1="294.20" x2="215.30" y2="294.20" stroke="#0818f4" stroke-width="1.0" />
<path d="M24.00,294.40L24.00,294.40L24.50,293.96L25.00,293.47L25.50,293.31L26.00,293.52L26.50,293.50L27.00,293.46L27.50,293.64L28.00,293.49L28.50,293.44L29.00,293.37L29.50,293.68L30.00,293.59L30.50,293.68L31.00,293.36L31.50,293.41L32.00,293.71L32.50,293.28L33.00,293.29L33.50,293.43L34.00,293.45L34.50,293.65L35.00,293.72L35.50,293.49L36.00,293.70L36.50,293.64L37.00,293.62L37.50,293.71L38.00,293.52L38.50,293.53L39.00,293.35L39.50,293.49L40.00,293.44L40.50,293.50L41.00,293.42L41.50,293.50L42.00,293.58L42.50,293.24L43.00,293.24L43.50,293.31L44.00,293.36L44.50,293.54L45.00,293.58L45.50,293.55L46.00,293.65L46.50,293.31L47.00,293.48L47.50,293.26L48.00,293.48L48.50,293.19L49.00,293.24L49.50,293.65L50.00,293.55L50.50,293.18L51.00,293.40L51.50,293.13L52.00,293.41L52.50,293.56L53.00,293.28L53.50,293.19L54.00,293.44L54.50,293.52L55.00,293.38L55.50,293.06L56.00,293.15L56.50,293.46L57.00,293.39L57.50,293.45L58.00,293.46L58.50,293.08L59.00,293.38L59.50,293.18L60.00,293.23L60.50,293.29L61.00,292.96L61.50,293.20L62.00,292.89L62.50,293.09L63.00,292.88L63.50,292.92L64.00,292.84L64.50,292.42L65.00,292.45L65.50,292.50L66.00,292.01L66.50,292.14L67.00,291.85L67.50,291.42L68.00,291.33L68.50,291.55L69.00,291.06L69.50,291.39L70.00,291.32L70.50,291.01L71.00,291.19L71.50,291.15L72.00,291.21L72.50,291.25L73.00,291.06L73.50,291.28L74.00,291.15L74.50,291.31L75.00,291.32L75.50,291.12L76.00,291.41L76.50,291.33L77.00,291.14L77.50,291.45L78.00,291.42L78.50,291.01L79.00,291.02L79.50,291.26L80.00,291.26L80.50,291.02L81.00,290.95L81.50,291.36L82.00,291.02L82.50,291.10L83.00,291.27L83.50,291.40L84.00,291.60L84.50,291.61L85.00,291.12L85.50,291.46L86.00,291.20L86.50,291.40L87.00,291.09L87.50,291.18L88.00,291.30L88.50,291.32L89.00,291.01L89.50,291.30L90.00,291.19L90.50,290.98L91.00,290.80L91.50,290.88L92.00,291.01L92.50,290.64L93.00,290.95L93.50,290.99L94.00,290.82L94.50,290.68L95.00,290.82L95.50,290.80L96.00,290.73L96.50,290.66L97.00,290.92L97.50,290.84L98.00,290.60L98.50,290.60L99.00,290.80L99.50,290.82L100.00,290.91L100.50,291.17L101.00,291.26L101.50,291.30L102.00,290.89L102.50,291.13L103.00,291.14L103.50,291.74L104.00,291.57L104.50,291.78L105.00,291.78L105.50,292.18L106.00,292.02L106.50,292.67L107.00,292.62L107.50,292.71L108.00,292.77L108.50,292.96L109.00,293.08L109.50,293.14L110.00,293.19L110.50,293.39L111.00,293.14L111.50,292.95L112.00,292.88L112.50,293.02L113.00,292.75L113.50,292.66L114.00,292.74L114.50,292.65L115.00,292.71L115.50,292.55L116.00,292.47L116.50,292.67L117.00,292.33L117.50,292.18L118.00,292.26L118.50,292.36L119.00,292.56L119.50,292.41L120.00,292.51L120.50,292.60L121.00,292.43L121.50,292.88L122.00,292.62L122.50,293.06L123.00,292.85L123.50,292.98L124.00,293.18L124.50,293.03L125.00,293.20L125.50,293.16L126.00,293.03L126.50,293.38L127.00,293.52L127.50,293.40L128.00,293.23L128.50,293.49L129.00,293.53L129.50,293.18L130.00,293.32L130.50,293.41L131.00,293.16L131.50,293.43L132.00,293.24L132.50,293.45L133.00,293.31L133.50,293.11L134.00,293.03L134.50,293.03L135.00,293.26L135.50,293.14L136.00,293.25L136.50,293.32L137.00,293.12L137.50,292.93L138.00,292.91L138.50,292.95L139.00,292.81L139.50,293.13L140.00,293.17L140.50,292.97L141.00,293.01L141.50,292.98L142.00,292.83L142.50,292.67L143.00,292.68L143.50,292.72L144.00,292.40L144.50,292.28L145.00,292.49L145.50,292.63L146.00,292.59L146.50,292.12L147.00,292.48L147.50,292.10L148.00,292.05L148.50,292.07L149.00,291.71L149.50,291.98L150.00,291.81L150.50,291.54L151.00,291.64L151.50,291.21L152.00,291.48L152.50,291.50L153.00,291.53L153.50,291.21L154.00,291.28L154.50,291.16L155.00,291.12L155.50,291.11L156.00,291.10L156.50,291.31L157.00,291.62L157.50,291.55L158.00,291.76L158.50,291.94L159.00,291.81L159.50,291.79L160.00,292.16L160.50,292.21L161.00,292.28L161.50,292.20L162.00,292.39L162.50,292.38L163.00,292.35L163.50,292.57L164.00,292.40L164.50,292.38L165.00,292.83L165.50,292.45L166.00,292.59L166.50,292.92L167.00,292.80L167.50,292.75L168.00,292.65L168.50,292.95L169.00,292.89L169.50,292.77L170.00,292.85L170.50,292.77L171.00,293.00L171.50,292.89L172.00,293.11L172.50,292.84L173.00,292.78L173.50,292.86L174.00,292.81L174.50,293.05L175.00,292.70L175.50,292.65L176.00,292.64L176.50,292.85L177.00,292.71L177.50,292.94L178.00,292.64L178.50,292.65L179.00,292.90L179.50,293.02L180.00,292.83L180.50,292.78L181.00,292.68L181.50,292.82L182.00,293.06L182.50,292.67L183.00,293.05L183.50,292.69L184.00,293.00L184.50,292.93L185.00,292.71L185.50,293.03L186.00,293.04L186.50,292.86L187.00,292.76L187.50,292.71L188.00,292.79L188.50,292.66L189.00,292.89L189.50,292.67L190.00,293.11L190.50,293.01L191.00,292.83L191.50,292.91L192.00,292.67L192.50,292.68L193.00,292.71L193.50,292.52L194.00,292.63L194.50,292.72L195.00,292.66L195.50,292.41L196.00,292.36L196.50,292.69L197.00,292.34L197.50,292.27L198.00,292.47L198.50,292.42L199.00,292.59L199.50,292.40L200.00,292.40L200.50,292.37L201.00,292.68L201.50,292.23L202.00,292.47L202.50,292.55L203.00,292.37L203.50,292.51L204.00,292.56L204.50,292.48L205.00,292.82L205.50,292.54L206.00,292.56L206.50,292.25L207.00,292.23L207.50,292.52L208.00,292.37L208.50,292.51L209.00,292.31L209.50,292.08L210.00,292.00L210.50,292.30L211.00,292.47L211.50,292.62L212.00,292.49L212.50,292.42L213.00,292.91L213.50,292.67L214.00,293.14L214.50,293.62L215.00,294.10L215.30,294.40Z" fill="#0818f4"/>
<line x1="24.00" y1="303.00" x2="64.70" y2="303.00" stroke="#f2b0c4" stroke-width="0.9" />
<path d="M23.80,303.40L23.80,303.40L24.30,301.81L24.80,301.69L25.30,301.68L25.80,301.98L26.30,302.06L26.80,301.83L27.30,301.88L27.80,301.55L28.30,301.61L28.80,301.66L29.30,301.68L29.80,301.61L30.30,301.92L30.80,301.76L31.30,301.95L31.80,301.52L32.30,302.04L32.80,301.60L33.30,302.07L33.80,301.71L34.30,301.94L34.80,301.92L35.30,301.67L35.80,302.18L36.30,302.23L36.80,301.82L37.30,302.18L37.80,302.54L38.30,302.11L38.80,302.50L39.30,303.08L39.80,303.28L40.00,303.40Z" fill="#e6002a"/>
<rect x="74.00" y="302.40" width="12.00" height="1.00" fill="#f4bccc" />
<rect x="89.00" y="302.40" width="17.00" height="1.00" fill="#f4bccc" />
<rect x="114.00" y="302.40" width="9.00" height="1.00" fill="#f4bccc" />
<rect x="146.00" y="302.40" width="15.50" height="1.00" fill="#f4bccc" />
<rect x="174.00" y="302.40" width="15.00" height="1.00" fill="#f4bccc" />
<rect x="197.00" y="302.40" width="18.00" height="1.00" fill="#f4bccc" />
<rect x="78.00" y="302.30" width="4.00" height="1.10" fill="#ea7896" />
<rect x="94.00" y="302.30" width="5.00" height="1.10" fill="#ea7896" />
<rect x="150.00" y="302.30" width="6.00" height="1.10" fill="#ea7896" />
<rect x="180.00" y="302.30" width="4.00" height="1.10" fill="#ea7896" />
<rect x="205.00" y="302.30" width="7.00" height="1.10" fill="#ea7896" />
<rect x="223.40" y="285.20" width="1.60" height="27.60" fill="#111" />
<text x="226.80" y="298.70" font-size="6.3" text-anchor="start" font-weight="normal" font-style="normal" fill="#222" textLength="30.20" lengthAdjust="spacingAndGlyphs" >H3K27me3</text>
<rect x="30.40" y="314.80" width="190.70" height="1.50" fill="#111" />
<line x1="28.80" y1="318.80" x2="215.80" y2="318.80" stroke="#8890ff" stroke-width="1.0" stroke-dasharray="1.5 1"/>
<rect x="28.80" y="317.30" width="3.20" height="3.00" fill="#0818f4" />
<rect x="144.60" y="317.40" width="14.40" height="2.80" fill="#0818f4" />
<rect x="104.60" y="318.00" width="1.60" height="1.60" fill="#0818f4" />
<text x="124.20" y="324.30" font-size="4.4" text-anchor="start" font-weight="normal" font-style="normal" fill="#333" textLength="18.50" lengthAdjust="spacingAndGlyphs" >CDKN1A</text>
<text x="185.90" y="324.30" font-size="4.4" text-anchor="start" font-weight="normal" font-style="normal" fill="#333" textLength="18.00" lengthAdjust="spacingAndGlyphs" >CDKN1A</text>
<text x="29.70" y="332.60" font-size="6.8" text-anchor="start" font-weight="normal" font-style="italic" fill="#111" textLength="27.20" lengthAdjust="spacingAndGlyphs" stroke="#111" stroke-width="0.12" >h19:chr.6</text>
<text x="117.20" y="333.40" font-size="6.8" text-anchor="start" font-weight="normal" font-style="italic" fill="#111" textLength="31.80" lengthAdjust="spacingAndGlyphs" stroke="#111" stroke-width="0.12" >36,646,503</text>
<text x="165.40" y="333.40" font-size="6.8" text-anchor="start" font-weight="normal" font-style="italic" fill="#111" textLength="31.70" lengthAdjust="spacingAndGlyphs" stroke="#111" stroke-width="0.12" >36,646,583</text>
<line x1="152.00" y1="330.60" x2="162.30" y2="330.60" stroke="#111" stroke-width="1.3" />
<path d="M150.00,330.60 L155.95,328.90 L155.95,332.30 Z M164.30,330.60 L158.35,328.90 L158.35,332.30 Z" fill="#111"/>
<text x="136.00" y="342.90" font-size="7.8" text-anchor="start" font-weight="bold" font-style="normal" fill="#111" textLength="33.10" lengthAdjust="spacingAndGlyphs" >ChIP-PCR</text>
<text x="263.40" y="177.00" font-size="11" text-anchor="start" font-weight="bold" font-style="normal" fill="#000" textLength="7.60" lengthAdjust="spacingAndGlyphs" >C</text>
<text x="367.00" y="182.00" font-size="9.6" text-anchor="start" font-weight="normal" font-style="italic" fill="#111" textLength="39.00" lengthAdjust="spacingAndGlyphs" stroke="#111" stroke-width="0.25" >CDKN2D</text>
<text x="262.00" y="193.90" font-size="6.4" text-anchor="start" font-weight="normal" font-style="normal" fill="#222" textLength="10.80" lengthAdjust="spacingAndGlyphs" >CTL</text>
<text x="262.00" y="204.20" font-size="6.4" text-anchor="start" font-weight="normal" font-style="normal" fill="#222" textLength="22.30" lengthAdjust="spacingAndGlyphs" >GSK343</text>
<text x="262.00" y="214.00" font-size="6.4" text-anchor="start" font-weight="normal" font-style="normal" fill="#222" textLength="10.80" lengthAdjust="spacingAndGlyphs" >CTL</text>
<text x="262.00" y="224.20" font-size="6.4" text-anchor="start" font-weight="normal" font-style="normal" fill="#222" textLength="22.30" lengthAdjust="spacingAndGlyphs" >GSK343</text>
<text x="262.00" y="234.00" font-size="6.4" text-anchor="start" font-weight="normal" font-style="normal" fill="#222" textLength="10.80" lengthAdjust="spacingAndGlyphs" >CTL</text>
<text x="262.00" y="244.00" font-size="6.4" text-anchor="start" font-weight="normal" font-style="normal" fill="#222" textLength="22.30" lengthAdjust="spacingAndGlyphs" >GSK343</text>
<text x="287.00" y="190.00" font-size="5.0" text-anchor="start" font-weight="normal" font-style="normal" fill="#222" textLength="18.80" lengthAdjust="spacingAndGlyphs" >[0-1.00]</text>
<text x="287.00" y="199.80" font-size="5.0" text-anchor="start" font-weight="normal" font-style="normal" fill="#222" textLength="18.80" lengthAdjust="spacingAndGlyphs" >[0-1.00]</text>
<text x="287.00" y="209.90" font-size="5.0" text-anchor="start" font-weight="normal" font-style="normal" fill="#222" textLength="21.80" lengthAdjust="spacingAndGlyphs" >[0-10.00]</text>
<text x="287.00" y="219.80" font-size="5.0" text-anchor="start" font-weight="normal" font-style="normal" fill="#222" textLength="21.80" lengthAdjust="spacingAndGlyphs" >[0-10.00]</text>
<text x="287.00" y="229.30" font-size="5.0" text-anchor="start" font-weight="normal" font-style="normal" fill="#222" textLength="14.20" lengthAdjust="spacingAndGlyphs" >[0-15]</text>
<text x="287.00" y="239.50" font-size="5.0" text-anchor="start" font-weight="normal" font-style="normal" fill="#222" textLength="14.20" lengthAdjust="spacingAndGlyphs" >[0-15]</text>
<line x1="286.90" y1="193.95" x2="478.60" y2="193.95" stroke="#9a9cff" stroke-width="0.75" />
<line x1="286.90" y1="203.90" x2="478.60" y2="203.90" stroke="#f6dde6" stroke-width="0.6" />
<line x1="286.90" y1="213.85" x2="478.60" y2="213.85" stroke="#9a9cff" stroke-width="0.75" />
<line x1="286.90" y1="224.00" x2="478.60" y2="224.00" stroke="#f6dde6" stroke-width="0.6" />
<line x1="286.90" y1="233.85" x2="478.60" y2="233.85" stroke="#9a9cff" stroke-width="0.75" />
<line x1="286.90" y1="243.80" x2="478.60" y2="243.80" stroke="#f6dde6" stroke-width="0.6" />
<rect x="287.05" y="193.66" width="1.89" height="0.94" fill="#4a58f2"/>
<rect x="298.41" y="193.83" width="1.99" height="0.77" fill="#4a58f2"/>
<rect x="306.25" y="193.81" width="4.15" height="0.79" fill="#4a58f2"/>
<rect x="320.33" y="193.82" width="3.82" height="0.78" fill="#4a58f2"/>
<rect x="332.43" y="193.65" width="3.07" height="0.95" fill="#4a58f2"/>
<rect x="347.47" y="193.89" width="1.83" height="0.71" fill="#4a58f2"/>
<rect x="360.81" y="193.78" width="2.91" height="0.82" fill="#4a58f2"/>
<rect x="370.37" y="193.33" width="2.78" height="1.27" fill="#4a58f2"/>
<rect x="378.83" y="193.55" width="2.26" height="1.05" fill="#4a58f2"/>
<rect x="389.46" y="193.40" width="4.84" height="1.20" fill="#4a58f2"/>
<rect x="401.15" y="193.40" width="2.21" height="1.20" fill="#4a58f2"/>
<rect x="415.27" y="193.46" width="1.61" height="1.14" fill="#4a58f2"/>
<rect x="427.82" y="193.77" width="3.78" height="0.83" fill="#4a58f2"/>
<rect x="441.98" y="193.78" width="4.05" height="0.82" fill="#4a58f2"/>
<rect x="455.16" y="193.88" width="2.27" height="0.72" fill="#4a58f2"/>
<rect x="464.11" y="193.66" width="2.67" height="0.94" fill="#4a58f2"/>
<rect x="475.96" y="193.32" width="4.43" height="1.28" fill="#4a58f2"/>
<rect x="287.52" y="203.45" width="2.01" height="1.05" fill="#d8489a"/>
<rect x="296.98" y="203.24" width="3.09" height="1.26" fill="#d8489a"/>
<rect x="303.12" y="203.18" width="3.13" height="1.32" fill="#d8489a"/>
<rect x="311.63" y="203.16" width="4.79" height="1.34" fill="#d8489a"/>
<rect x="320.96" y="203.22" width="1.20" height="1.28" fill="#d8489a"/>
<rect x="325.36" y="203.23" width="1.24" height="1.27" fill="#d8489a"/>
<rect x="333.73" y="203.12" width="4.38" height="1.38" fill="#d8489a"/>
<rect x="341.72" y="203.54" width="1.51" height="0.96" fill="#d8489a"/>
<rect x="351.10" y="203.52" width="1.63" height="0.98" fill="#d8489a"/>
<rect x="355.34" y="203.58" width="1.39" height="0.92" fill="#d8489a"/>
<rect x="361.17" y="203.45" width="1.82" height="1.05" fill="#d8489a"/>
<rect x="370.60" y="203.19" width="1.84" height="1.31" fill="#d8489a"/>
<rect x="379.00" y="203.31" width="3.36" height="1.19" fill="#d8489a"/>
<rect x="389.09" y="203.49" width="3.43" height="1.01" fill="#d8489a"/>
<rect x="396.83" y="203.40" width="2.13" height="1.10" fill="#d8489a"/>
<rect x="406.89" y="203.57" width="2.82" height="0.93" fill="#d8489a"/>
<rect x="414.84" y="203.38" width="4.29" height="1.12" fill="#d8489a"/>
<rect x="425.49" y="203.57" width="1.55" height="0.93" fill="#d8489a"/>
<rect x="433.17" y="203.45" width="1.38" height="1.05" fill="#d8489a"/>
<rect x="439.17" y="203.58" width="1.94" height="0.92" fill="#d8489a"/>
<rect x="443.64" y="203.26" width="4.82" height="1.24" fill="#d8489a"/>
<rect x="456.19" y="203.12" width="3.07" height="1.38" fill="#d8489a"/>
<rect x="466.51" y="203.34" width="3.55" height="1.16" fill="#d8489a"/>
<rect x="475.35" y="203.41" width="2.06" height="1.09" fill="#d8489a"/>
<path d="M294.60,204.20L294.60,204.20L295.10,203.16L295.60,202.68L296.10,202.50L296.60,202.76L297.10,203.20L297.50,204.20Z" fill="#e6002a"/>
<rect x="294.31" y="213.38" width="2.02" height="1.12" fill="#3a4af0"/>
<rect x="309.51" y="213.62" width="2.44" height="0.88" fill="#3a4af0"/>
<rect x="325.54" y="213.65" width="1.79" height="0.85" fill="#3a4af0"/>
<rect x="334.09" y="213.72" width="1.92" height="0.78" fill="#3a4af0"/>
<rect x="344.20" y="213.41" width="2.05" height="1.09" fill="#3a4af0"/>
<rect x="306.58" y="223.43" width="2.25" height="1.17" fill="#e2408e"/>
<rect x="319.89" y="223.32" width="1.60" height="1.28" fill="#e2408e"/>
<rect x="330.46" y="223.42" width="2.25" height="1.18" fill="#e2408e"/>
<rect x="344.21" y="223.62" width="1.58" height="0.98" fill="#e2408e"/>
<rect x="355.81" y="223.42" width="2.02" height="1.18" fill="#e2408e"/>
<rect x="365.38" y="223.79" width="2.54" height="0.81" fill="#e2408e"/>
<rect x="377.97" y="223.79" width="1.72" height="0.81" fill="#e2408e"/>
<rect x="389.42" y="223.68" width="1.27" height="0.92" fill="#e2408e"/>
<rect x="397.97" y="223.72" width="1.42" height="0.88" fill="#e2408e"/>
<rect x="404.90" y="223.76" width="2.38" height="0.84" fill="#e2408e"/>
<rect x="413.41" y="223.35" width="1.31" height="1.25" fill="#e2408e"/>
<rect x="423.54" y="223.31" width="2.35" height="1.29" fill="#e2408e"/>
<rect x="434.36" y="223.61" width="1.75" height="0.99" fill="#e2408e"/>
<rect x="442.97" y="223.32" width="2.03" height="1.28" fill="#e2408e"/>
<rect x="453.52" y="223.36" width="2.26" height="1.24" fill="#e2408e"/>
<rect x="466.59" y="223.53" width="2.14" height="1.07" fill="#e2408e"/>
<rect x="474.42" y="223.37" width="1.73" height="1.23" fill="#e2408e"/>
<path d="M355.00,214.20L355.00,214.20L355.50,214.12L356.00,214.03L356.50,213.95L357.00,213.90L357.50,213.66L358.00,213.56L358.50,213.49L359.00,213.45L359.50,213.32L360.00,213.65L360.50,213.28L361.00,213.41L361.50,213.06L362.00,212.84L362.50,212.36L363.00,211.97L363.50,211.55L364.00,211.00L364.50,210.59L365.00,210.64L365.50,210.04L366.00,209.67L366.50,210.46L367.00,211.13L367.50,211.40L368.00,211.74L368.50,212.27L369.00,212.68L369.50,212.58L370.00,212.06L370.50,210.97L371.00,210.57L371.50,209.48L372.00,208.77L372.50,208.11L373.00,208.32L373.50,207.57L374.00,207.55L374.50,207.88L375.00,208.28L375.50,208.40L376.00,208.44L376.50,208.53L377.00,208.69L377.50,209.01L378.00,209.36L378.50,209.07L379.00,208.86L379.50,208.95L380.00,208.41L380.50,209.20L381.00,209.36L381.50,209.63L382.00,209.90L382.50,210.13L383.00,210.19L383.50,210.28L384.00,210.10L384.50,210.51L385.00,210.63L385.50,210.87L386.00,211.06L386.50,210.91L387.00,210.90L387.50,211.37L388.00,211.11L388.50,211.41L389.00,211.15L389.50,211.39L390.00,211.54L390.50,211.58L391.00,211.22L391.50,211.52L392.00,211.93L392.50,211.59L393.00,212.11L393.50,212.25L394.00,212.70L394.50,213.02L395.00,213.37L395.50,212.99L396.00,213.17L396.50,212.88L397.00,212.95L397.50,212.34L398.00,212.32L398.50,212.02L399.00,211.84L399.50,211.59L400.00,211.58L400.50,212.17L401.00,212.06L401.50,212.35L402.00,212.05L402.50,212.16L403.00,212.82L403.50,212.69L404.00,213.12L404.50,213.12L405.00,213.14L405.50,213.34L406.00,213.29L406.50,213.53L407.00,213.55L407.50,213.66L408.00,213.67L408.50,213.79L409.00,213.75L409.50,213.85L410.00,213.74L410.50,213.82L411.00,213.85L411.50,213.79L412.00,213.90L412.50,214.05L413.00,214.20L413.00,214.20Z" fill="#0818f4"/>
<path d="M352.00,224.30L352.00,224.30L352.50,224.21L353.00,224.12L353.50,224.03L354.00,223.90L354.50,223.96L355.00,223.67L355.50,223.31L356.00,223.05L356.50,223.02L357.00,222.72L357.50,222.75L358.00,222.53L358.50,222.66L359.00,222.19L359.50,222.11L360.00,222.18L360.50,222.00L361.00,221.66L361.50,221.67L362.00,221.19L362.50,221.02L363.00,220.93L363.50,221.21L364.00,221.05L364.50,220.75L365.00,220.53L365.50,220.15L366.00,219.90L366.50,220.49L367.00,220.87L367.50,221.33L368.00,222.08L368.50,222.28L369.00,222.97L369.50,222.35L370.00,222.09L370.50,221.21L371.00,220.39L371.50,220.23L372.00,219.25L372.50,219.34L373.00,218.89L373.50,218.75L374.00,218.08L374.50,218.29L375.00,218.31L375.50,218.84L376.00,218.67L376.50,218.76L377.00,218.94L377.50,218.78L378.00,219.03L378.50,219.16L379.00,218.82L379.50,218.89L380.00,218.97L380.50,218.85L381.00,219.32L381.50,219.21L382.00,219.27L382.50,219.68L383.00,219.38L383.50,219.80L384.00,219.54L384.50,219.81L385.00,220.08L385.50,219.33L386.00,219.73L386.50,219.51L387.00,219.13L387.50,219.12L388.00,218.78L388.50,218.98L389.00,219.09L389.50,219.27L390.00,219.59L390.50,219.81L391.00,219.68L391.50,220.22L392.00,220.54L392.50,220.68L393.00,221.59L393.50,221.93L394.00,222.26L394.50,223.07L395.00,223.15L395.50,223.23L396.00,223.16L396.50,223.11L397.00,222.52L397.50,222.95L398.00,222.36L398.50,222.30L399.00,222.06L399.50,222.25L400.00,222.53L400.50,222.47L401.00,222.31L401.50,222.91L402.00,222.49L402.50,222.70L403.00,223.08L403.50,222.72L404.00,223.22L404.50,223.50L405.00,223.44L405.50,223.39L406.00,223.73L406.50,223.56L407.00,223.72L407.50,223.85L408.00,223.84L408.50,224.10L409.00,224.30L409.00,224.30Z" fill="#e6002a"/>
<path d="M354.00,234.20L354.00,234.20L354.50,234.01L355.00,233.80L355.50,233.67L356.00,233.36L356.50,233.52L357.00,232.89L357.50,232.75L358.00,232.29L358.50,232.22L359.00,231.79L359.50,231.59L360.00,231.30L360.50,230.81L361.00,230.72L361.50,230.17L362.00,230.15L362.50,229.87L363.00,229.13L363.50,228.68L364.00,228.42L364.50,228.13L365.00,228.39L365.50,228.13L366.00,227.98L366.50,228.44L367.00,228.82L367.50,229.58L368.00,230.49L368.50,230.71L369.00,231.35L369.50,230.72L370.00,230.30L370.50,230.45L371.00,229.54L371.50,229.32L372.00,228.89L372.50,228.56L373.00,228.42L373.50,228.33L374.00,228.18L374.50,227.91L375.00,227.59L375.50,227.93L376.00,227.84L376.50,227.96L377.00,227.70L377.50,228.02L378.00,227.76L378.50,228.15L379.00,227.62L379.50,227.84L380.00,227.51L380.50,227.56L381.00,227.49L381.50,227.90L382.00,227.38L382.50,227.43L383.00,227.13L383.50,227.24L384.00,227.29L384.50,226.87L385.00,226.74L385.50,227.12L386.00,227.08L386.50,226.82L387.00,226.61L387.50,226.80L388.00,226.45L388.50,226.37L389.00,226.12L389.50,226.61L390.00,226.72L390.50,226.59L391.00,226.55L391.50,226.90L392.00,227.05L392.50,227.59L393.00,227.98L393.50,228.21L394.00,228.86L394.50,229.86L395.00,230.45L395.50,230.75L396.00,231.43L396.50,232.38L397.00,232.18L397.50,231.92L398.00,231.99L398.50,231.57L399.00,231.36L399.50,231.35L400.00,230.94L400.50,230.56L401.00,230.95L401.50,230.83L402.00,231.13L402.50,231.58L403.00,231.61L403.50,231.79L404.00,232.34L404.50,232.50L405.00,232.62L405.50,232.99L406.00,233.39L406.50,233.34L407.00,233.27L407.50,233.42L408.00,233.62L408.50,233.71L409.00,233.82L409.50,233.77L410.00,233.85L410.50,234.05L411.00,234.20L411.00,234.20Z" fill="#0818f4"/>
<path d="M353.00,244.10L353.00,244.10L353.50,243.90L354.00,243.77L354.50,243.54L355.00,243.45L355.50,243.06L356.00,242.66L356.50,242.31L357.00,242.25L357.50,241.94L358.00,241.79L358.50,241.16L359.00,241.22L359.50,240.62L360.00,240.86L360.50,240.47L361.00,239.80L361.50,239.37L362.00,238.75L362.50,238.73L363.00,238.99L363.50,239.17L364.00,238.97L364.50,239.37L365.00,239.75L365.50,239.96L366.00,240.40L366.50,240.47L367.00,241.37L367.50,241.79L368.00,242.03L368.50,242.28L369.00,242.53L369.50,242.02L370.00,241.42L370.50,240.83L371.00,240.32L371.50,240.42L372.00,240.19L372.50,240.07L373.00,239.64L373.50,239.75L374.00,239.24L374.50,239.30L375.00,239.56L375.50,239.23L376.00,239.18L376.50,239.51L377.00,239.05L377.50,239.06L378.00,239.18L378.50,238.87L379.00,239.35L379.50,239.35L380.00,238.90L380.50,238.90L381.00,239.26L381.50,238.87L382.00,238.85L382.50,238.87L383.00,238.92L383.50,238.41L384.00,238.26L384.50,238.37L385.00,238.47L385.50,238.12L386.00,237.91L386.50,237.84L387.00,237.52L387.50,237.71L388.00,237.17L388.50,237.47L389.00,238.02L389.50,238.25L390.00,238.03L390.50,238.50L391.00,238.36L391.50,238.59L392.00,239.23L392.50,239.21L393.00,239.77L393.50,240.10L394.00,240.79L394.50,240.92L395.00,241.81L395.50,241.72L396.00,242.43L396.50,242.85L397.00,243.38L397.50,243.07L398.00,242.96L398.50,242.67L399.00,242.01L399.50,242.26L400.00,242.63L400.50,242.69L401.00,242.52L401.50,242.32L402.00,242.63L402.50,242.80L403.00,242.73L403.50,243.17L404.00,243.26L404.50,243.17L405.00,243.14L405.50,243.40L406.00,243.55L406.50,243.54L407.00,243.55L407.50,243.78L408.00,243.86L408.50,243.88L409.00,243.95L409.50,244.03L410.00,244.10L410.00,244.10Z" fill="#e6002a"/>
<path d="M424.00,244.10L424.00,244.10L424.50,243.61L425.00,242.87L425.50,243.38L426.00,243.23L426.50,242.82L427.00,243.00L427.50,243.71L428.00,244.10L428.00,244.10Z" fill="#e2408e"/>
<rect x="479.80" y="185.00" width="1.50" height="16.70" fill="#111" />
<rect x="479.80" y="203.60" width="1.50" height="19.00" fill="#111" />
<rect x="479.80" y="224.70" width="1.50" height="19.60" fill="#111" />
<text x="483.00" y="197.00" font-size="6.3" text-anchor="start" font-weight="normal" font-style="normal" fill="#222" textLength="30.50" lengthAdjust="spacingAndGlyphs" >H3K27me3</text>
<text x="483.00" y="216.40" font-size="6.3" text-anchor="start" font-weight="normal" font-style="normal" fill="#222" textLength="24.60" lengthAdjust="spacingAndGlyphs" >H3K27ac</text>
<text x="483.00" y="237.00" font-size="6.3" text-anchor="start" font-weight="normal" font-style="normal" fill="#222" textLength="26.60" lengthAdjust="spacingAndGlyphs" >H3K4me3</text>
<rect x="287.00" y="250.00" width="192.20" height="1.50" fill="#5a5a5a" />
<rect x="287.00" y="251.50" width="192.20" height="1.50" fill="#8a8a8a" />
<line x1="287.00" y1="255.20" x2="395.00" y2="255.20" stroke="#a0a4ff" stroke-width="0.9" />
<line x1="428.50" y1="255.20" x2="479.20" y2="255.20" stroke="#a0a4ff" stroke-width="0.9" />
<path d="M289.00,254.30 L290.20,255.20 L289.00,256.10" fill="none" stroke="#5a64f4" stroke-width="0.6"/>
<path d="M294.60,254.30 L295.80,255.20 L294.60,256.10" fill="none" stroke="#5a64f4" stroke-width="0.6"/>
<path d="M300.20,254.30 L301.40,255.20 L300.20,256.10" fill="none" stroke="#5a64f4" stroke-width="0.6"/>
<path d="M305.80,254.30 L307.00,255.20 L305.80,256.10" fill="none" stroke="#5a64f4" stroke-width="0.6"/>
<path d="M311.40,254.30 L312.60,255.20 L311.40,256.10" fill="none" stroke="#5a64f4" stroke-width="0.6"/>
<path d="M317.00,254.30 L318.20,255.20 L317.00,256.10" fill="none" stroke="#5a64f4" stroke-width="0.6"/>
<path d="M322.60,254.30 L323.80,255.20 L322.60,256.10" fill="none" stroke="#5a64f4" stroke-width="0.6"/>
<path d="M328.20,254.30 L329.40,255.20 L328.20,256.10" fill="none" stroke="#5a64f4" stroke-width="0.6"/>
<path d="M333.80,254.30 L335.00,255.20 L333.80,256.10" fill="none" stroke="#5a64f4" stroke-width="0.6"/>
<path d="M339.40,254.30 L340.60,255.20 L339.40,256.10" fill="none" stroke="#5a64f4" stroke-width="0.6"/>
<path d="M345.00,254.30 L346.20,255.20 L345.00,256.10" fill="none" stroke="#5a64f4" stroke-width="0.6"/>
<path d="M350.60,254.30 L351.80,255.20 L350.60,256.10" fill="none" stroke="#5a64f4" stroke-width="0.6"/>
<path d="M356.20,254.30 L357.40,255.20 L356.20,256.10" fill="none" stroke="#5a64f4" stroke-width="0.6"/>
<path d="M361.80,254.30 L363.00,255.20 L361.80,256.10" fill="none" stroke="#5a64f4" stroke-width="0.6"/>
<path d="M367.40,254.30 L368.60,255.20 L367.40,256.10" fill="none" stroke="#5a64f4" stroke-width="0.6"/>
<path d="M373.00,254.30 L374.20,255.20 L373.00,256.10" fill="none" stroke="#5a64f4" stroke-width="0.6"/>
<path d="M378.60,254.30 L379.80,255.20 L378.60,256.10" fill="none" stroke="#5a64f4" stroke-width="0.6"/>
<path d="M384.20,254.30 L385.40,255.20 L384.20,256.10" fill="none" stroke="#5a64f4" stroke-width="0.6"/>
<path d="M389.80,254.30 L391.00,255.20 L389.80,256.10" fill="none" stroke="#5a64f4" stroke-width="0.6"/>
<path d="M429.00,254.30 L430.20,255.20 L429.00,256.10" fill="none" stroke="#5a64f4" stroke-width="0.6"/>
<path d="M434.60,254.30 L435.80,255.20 L434.60,256.10" fill="none" stroke="#5a64f4" stroke-width="0.6"/>
<path d="M440.20,254.30 L441.40,255.20 L440.20,256.10" fill="none" stroke="#5a64f4" stroke-width="0.6"/>
<path d="M445.80,254.30 L447.00,255.20 L445.80,256.10" fill="none" stroke="#5a64f4" stroke-width="0.6"/>
<path d="M451.40,254.30 L452.60,255.20 L451.40,256.10" fill="none" stroke="#5a64f4" stroke-width="0.6"/>
<path d="M457.00,254.30 L458.20,255.20 L457.00,256.10" fill="none" stroke="#5a64f4" stroke-width="0.6"/>
<path d="M462.60,254.30 L463.80,255.20 L462.60,256.10" fill="none" stroke="#5a64f4" stroke-width="0.6"/>
<path d="M468.20,254.30 L469.40,255.20 L468.20,256.10" fill="none" stroke="#5a64f4" stroke-width="0.6"/>
<path d="M473.80,254.30 L475.00,255.20 L473.80,256.10" fill="none" stroke="#5a64f4" stroke-width="0.6"/>
<rect x="291.70" y="253.60" width="6.70" height="3.20" fill="#0818f4" />
<rect x="308.00" y="253.50" width="3.20" height="3.40" fill="#0818f4" />
<rect x="311.80" y="253.50" width="2.00" height="3.40" fill="#0818f4" />
<rect x="316.70" y="253.60" width="1.30" height="3.20" fill="#0818f4" />
<rect x="322.50" y="253.70" width="2.80" height="3.00" fill="#0818f4" />
<rect x="328.60" y="253.80" width="1.40" height="2.80" fill="#0818f4" />
<rect x="338.80" y="253.90" width="1.20" height="2.60" fill="#0818f4" />
<rect x="358.00" y="253.70" width="1.20" height="3.00" fill="#0818f4" />
<rect x="365.60" y="253.70" width="1.00" height="3.00" fill="#0818f4" />
<rect x="367.50" y="253.70" width="1.00" height="3.00" fill="#0818f4" />
<rect x="371.90" y="254.20" width="5.80" height="2.00" fill="#0818f4" />
<rect x="377.70" y="253.45" width="3.40" height="3.50" fill="#0818f4" />
<rect x="389.80" y="253.80" width="5.20" height="2.80" fill="#0818f4" />
<rect x="428.50" y="253.90" width="3.50" height="2.60" fill="#0818f4" />
<rect x="443.60" y="254.10" width="0.80" height="2.20" fill="#0818f4" />
<rect x="448.00" y="253.80" width="1.50" height="2.80" fill="#0818f4" />
<rect x="469.50" y="253.80" width="1.30" height="2.80" fill="#0818f4" />
<text x="313.80" y="261.50" font-size="4.2" text-anchor="start" font-weight="normal" font-style="normal" fill="#333" textLength="5.80" lengthAdjust="spacingAndGlyphs" >KRI</text>
<text x="360.10" y="261.40" font-size="4.4" text-anchor="start" font-weight="normal" font-style="normal" fill="#333" textLength="17.40" lengthAdjust="spacingAndGlyphs" >CDKN1A</text>
<text x="381.70" y="261.40" font-size="4.4" text-anchor="start" font-weight="normal" font-style="normal" fill="#333" textLength="17.70" lengthAdjust="spacingAndGlyphs" >CDKN1A</text>
<text x="453.40" y="261.50" font-size="4.2" text-anchor="start" font-weight="normal" font-style="normal" fill="#333" textLength="13.80" lengthAdjust="spacingAndGlyphs" >AP1M2</text>
<line x1="287.00" y1="262.50" x2="479.20" y2="262.50" stroke="#111" stroke-width="1.0" />
<line x1="365.40" y1="262.50" x2="287.00" y2="278.80" stroke="#111" stroke-width="1.0" />
<line x1="399.60" y1="262.50" x2="479.20" y2="279.20" stroke="#111" stroke-width="1.0" />
<rect x="287.00" y="285.00" width="190.80" height="2.80" fill="#999" />
<line x1="287.00" y1="285.50" x2="477.80" y2="285.50" stroke="#111" stroke-width="1.0" />
<line x1="287.00" y1="287.30" x2="477.80" y2="287.30" stroke="#333" stroke-width="0.9" />
<line x1="305.80" y1="282.20" x2="305.80" y2="285.60" stroke="#111" stroke-width="0.9" />
<line x1="330.07" y1="282.20" x2="330.07" y2="285.60" stroke="#111" stroke-width="0.9" />
<line x1="354.34" y1="282.20" x2="354.34" y2="285.60" stroke="#111" stroke-width="0.9" />
<line x1="378.61" y1="282.20" x2="378.61" y2="285.60" stroke="#111" stroke-width="0.9" />
<line x1="402.88" y1="282.20" x2="402.88" y2="285.60" stroke="#111" stroke-width="0.9" />
<line x1="427.15" y1="282.20" x2="427.15" y2="285.60" stroke="#111" stroke-width="0.9" />
<line x1="451.42" y1="282.20" x2="451.42" y2="285.60" stroke="#111" stroke-width="0.9" />
<line x1="475.69" y1="282.20" x2="475.69" y2="285.60" stroke="#111" stroke-width="0.9" />
<text x="331.90" y="278.30" font-size="4.4" text-anchor="middle" font-weight="normal" font-style="normal" fill="#333" textLength="27.00" lengthAdjust="spacingAndGlyphs" >10,677,000 bp</text>
<text x="382.70" y="278.30" font-size="4.4" text-anchor="middle" font-weight="normal" font-style="normal" fill="#333" textLength="27.00" lengthAdjust="spacingAndGlyphs" >10,678,000 bp</text>
<text x="435.10" y="278.30" font-size="4.4" text-anchor="middle" font-weight="normal" font-style="normal" fill="#333" textLength="27.00" lengthAdjust="spacingAndGlyphs" >10,679,000 bp</text>
<text x="287.40" y="292.70" font-size="5.0" text-anchor="start" font-weight="normal" font-style="normal" fill="#222" textLength="18.40" lengthAdjust="spacingAndGlyphs" >[0-2.00]</text>
<text x="287.40" y="300.30" font-size="5.0" text-anchor="start" font-weight="normal" font-style="normal" fill="#222" textLength="18.40" lengthAdjust="spacingAndGlyphs" >[0-2.00]</text>
<line x1="287.00" y1="295.20" x2="478.70" y2="295.20" stroke="#7c80ff" stroke-width="0.8" />
<line x1="287.00" y1="302.60" x2="478.00" y2="302.60" stroke="#f4e6ec" stroke-width="0.6" />
<rect x="325.00" y="301.90" width="5.30" height="1.00" fill="#ec8ca8" />
<rect x="372.30" y="301.90" width="10.40" height="1.00" fill="#ec8ca8" />
<rect x="458.00" y="301.90" width="16.60" height="1.00" fill="#ec8ca8" />
<rect x="480.10" y="292.20" width="1.10" height="23.60" fill="#111" />
<text x="481.80" y="303.70" font-size="6.3" text-anchor="start" font-weight="normal" font-style="normal" fill="#222" textLength="30.20" lengthAdjust="spacingAndGlyphs" >H3K27me3</text>
<rect x="286.80" y="311.40" width="190.70" height="1.50" fill="#111" />
<line x1="291.00" y1="315.00" x2="435.00" y2="315.00" stroke="#8890ff" stroke-width="1.0" stroke-dasharray="1.5 1"/>
<rect x="286.80" y="313.70" width="4.20" height="2.40" fill="#0818f4" />
<rect x="312.00" y="314.40" width="28.90" height="1.50" fill="#0818f4" />
<rect x="340.90" y="313.70" width="17.70" height="2.60" fill="#0818f4" />
<rect x="411.80" y="313.60" width="8.00" height="2.80" fill="#0818f4" />
<rect x="419.80" y="314.20" width="15.20" height="1.70" fill="#0818f4" />
<text x="286.80" y="320.00" font-size="4.0" text-anchor="start" font-weight="normal" font-style="normal" fill="#333" textLength="8.70" lengthAdjust="spacingAndGlyphs" >KRI1</text>
<text x="364.20" y="319.80" font-size="4.0" text-anchor="start" font-weight="normal" font-style="normal" fill="#333" textLength="17.30" lengthAdjust="spacingAndGlyphs" >CDKN2D</text>
<text x="285.80" y="331.90" font-size="6.8" text-anchor="start" font-weight="normal" font-style="italic" fill="#111" textLength="30.50" lengthAdjust="spacingAndGlyphs" stroke="#111" stroke-width="0.12" >h19:chr.19</text>
<text x="374.00" y="331.80" font-size="6.8" text-anchor="start" font-weight="normal" font-style="italic" fill="#111" textLength="31.40" lengthAdjust="spacingAndGlyphs" stroke="#111" stroke-width="0.12" >10,679,136</text>
<line x1="407.80" y1="329.90" x2="418.40" y2="329.90" stroke="#111" stroke-width="1.3" />
<path d="M405.80,329.90 L411.90,328.20 L411.90,331.60 Z M420.40,329.90 L414.30,328.20 L414.30,331.60 Z" fill="#111"/>
<text x="422.50" y="331.80" font-size="6.8" text-anchor="start" font-weight="normal" font-style="italic" fill="#111" textLength="30.20" lengthAdjust="spacingAndGlyphs" stroke="#111" stroke-width="0.12" >10,679,220</text>
<text x="394.00" y="342.60" font-size="7.8" text-anchor="start" font-weight="bold" font-style="normal" fill="#111" textLength="31.80" lengthAdjust="spacingAndGlyphs" >ChIP-PCR</text>
<line x1="60.50" y1="360.50" x2="60.50" y2="417.60" stroke="#111" stroke-width="1.3" />
<line x1="57.10" y1="361.20" x2="60.50" y2="361.20" stroke="#111" stroke-width="1.1" />
<text x="54.80" y="363.90" font-size="8.0" text-anchor="end" font-weight="normal" font-style="normal" fill="#222" textLength="15.00" lengthAdjust="spacingAndGlyphs" >0.08</text>
<line x1="57.10" y1="375.10" x2="60.50" y2="375.10" stroke="#111" stroke-width="1.1" />
<text x="54.80" y="377.80" font-size="8.0" text-anchor="end" font-weight="normal" font-style="normal" fill="#222" textLength="15.00" lengthAdjust="spacingAndGlyphs" >0.06</text>
<line x1="57.10" y1="389.00" x2="60.50" y2="389.00" stroke="#111" stroke-width="1.1" />
<text x="54.80" y="391.70" font-size="8.0" text-anchor="end" font-weight="normal" font-style="normal" fill="#222" textLength="15.00" lengthAdjust="spacingAndGlyphs" >0.04</text>
<line x1="57.10" y1="403.00" x2="60.50" y2="403.00" stroke="#111" stroke-width="1.1" />
<text x="54.80" y="405.70" font-size="8.0" text-anchor="end" font-weight="normal" font-style="normal" fill="#222" textLength="15.00" lengthAdjust="spacingAndGlyphs" >0.02</text>
<line x1="57.10" y1="416.90" x2="60.50" y2="416.90" stroke="#111" stroke-width="1.1" />
<text x="54.80" y="419.60" font-size="8.0" text-anchor="end" font-weight="normal" font-style="normal" fill="#222" textLength="15.00" lengthAdjust="spacingAndGlyphs" >0.00</text>
<text x="0" y="0" font-size="8.8" fill="#222" textLength="25.40" lengthAdjust="spacingAndGlyphs" transform="translate(34.80,401.60) rotate(-90)">% Input</text>
<rect x="59.90" y="416.30" width="75.10" height="1.50" fill="#111" />
<line x1="72.10" y1="417.00" x2="72.10" y2="420.60" stroke="#111" stroke-width="1.0" />
<line x1="86.20" y1="417.00" x2="86.20" y2="420.60" stroke="#111" stroke-width="1.0" />
<line x1="109.20" y1="417.00" x2="109.20" y2="420.60" stroke="#111" stroke-width="1.0" />
<line x1="123.40" y1="417.00" x2="123.40" y2="420.60" stroke="#111" stroke-width="1.0" />
<rect x="67.00" y="412.40" width="10.40" height="4.10" fill="#c80014" />
<line x1="72.20" y1="412.00" x2="72.20" y2="412.40" stroke="#111" stroke-width="1.0" />
<line x1="70.40" y1="412.00" x2="74.00" y2="412.00" stroke="#111" stroke-width="1.1" />
<rect x="81.10" y="386.80" width="10.00" height="29.70" fill="#0234aa" />
<line x1="86.10" y1="385.30" x2="86.10" y2="386.80" stroke="#111" stroke-width="1.0" />
<line x1="84.10" y1="385.30" x2="88.10" y2="385.30" stroke="#111" stroke-width="1.1" />
<rect x="104.50" y="407.50" width="10.40" height="9.00" fill="#c80014" />
<line x1="109.70" y1="407.10" x2="109.70" y2="407.50" stroke="#111" stroke-width="1.0" />
<line x1="107.90" y1="407.10" x2="111.50" y2="407.10" stroke="#111" stroke-width="1.1" />
<rect x="118.30" y="406.70" width="10.40" height="9.80" fill="#0234aa" />
<line x1="123.40" y1="401.60" x2="123.40" y2="406.70" stroke="#111" stroke-width="1.0" />
<line x1="120.90" y1="401.60" x2="125.90" y2="401.60" stroke="#111" stroke-width="1.1" />
<text x="65.00" y="429.00" font-size="8.5" text-anchor="start" font-weight="normal" font-style="normal" fill="#222" textLength="31.70" lengthAdjust="spacingAndGlyphs" >CDKN1A</text>
<text x="81.00" y="438.30" font-size="7.9" text-anchor="middle" font-weight="normal" font-style="normal" fill="#222" textLength="18.00" lengthAdjust="spacingAndGlyphs" >(p21)</text>
<text x="109.20" y="429.00" font-size="8.5" text-anchor="start" font-weight="normal" font-style="normal" fill="#222" textLength="14.50" lengthAdjust="spacingAndGlyphs" >CTL</text>
<rect x="115.60" y="361.90" width="6.60" height="5.10" fill="#c80014" />
<rect x="115.60" y="369.40" width="6.60" height="5.30" fill="#0234aa" />
<text x="124.90" y="367.10" font-size="7.2" text-anchor="start" font-weight="normal" font-style="normal" fill="#222" textLength="13.50" lengthAdjust="spacingAndGlyphs" >IGG</text>
<text x="124.90" y="374.80" font-size="7.2" text-anchor="start" font-weight="normal" font-style="normal" fill="#222" textLength="18.30" lengthAdjust="spacingAndGlyphs" >EZH2</text>
<line x1="182.70" y1="357.40" x2="182.70" y2="416.60" stroke="#111" stroke-width="1.3" />
<line x1="179.30" y1="357.60" x2="182.70" y2="357.60" stroke="#111" stroke-width="1.1" />
<text x="177.00" y="359.90" font-size="7.8" text-anchor="end" font-weight="normal" font-style="normal" fill="#222" textLength="3.70" lengthAdjust="spacingAndGlyphs" >6</text>
<line x1="179.30" y1="377.10" x2="182.70" y2="377.10" stroke="#111" stroke-width="1.1" />
<text x="177.00" y="379.40" font-size="7.8" text-anchor="end" font-weight="normal" font-style="normal" fill="#222" textLength="3.70" lengthAdjust="spacingAndGlyphs" >4</text>
<line x1="179.30" y1="396.70" x2="182.70" y2="396.70" stroke="#111" stroke-width="1.1" />
<text x="177.00" y="399.00" font-size="7.8" text-anchor="end" font-weight="normal" font-style="normal" fill="#222" textLength="3.70" lengthAdjust="spacingAndGlyphs" >2</text>
<line x1="179.30" y1="416.00" x2="182.70" y2="416.00" stroke="#111" stroke-width="1.1" />
<text x="177.00" y="418.30" font-size="7.8" text-anchor="end" font-weight="normal" font-style="normal" fill="#222" textLength="3.70" lengthAdjust="spacingAndGlyphs" >0</text>
<text x="0" y="0" font-size="8.3" fill="#222" textLength="59.80" lengthAdjust="spacingAndGlyphs" transform="translate(168.20,418.00) rotate(-90)">Normalized to CTL</text>
<rect x="182.10" y="415.60" width="32.00" height="1.40" fill="#111" />
<line x1="190.60" y1="416.30" x2="190.60" y2="419.40" stroke="#111" stroke-width="1.0" />
<line x1="206.50" y1="416.30" x2="206.50" y2="419.40" stroke="#111" stroke-width="1.0" />
<rect x="185.10" y="406.30" width="10.90" height="9.50" fill="#c80014" />
<rect x="201.40" y="376.50" width="10.10" height="39.30" fill="#0234aa" />
<line x1="206.40" y1="368.40" x2="206.40" y2="376.50" stroke="#111" stroke-width="1.0" />
<line x1="204.00" y1="368.40" x2="208.80" y2="368.40" stroke="#111" stroke-width="1.1" />
<text x="205.90" y="370.00" font-size="9.6" text-anchor="middle" font-weight="normal" font-style="normal" fill="#111" >*</text>
<text x="0" y="0" font-size="8.3" fill="#222" text-anchor="end" textLength="14.20" lengthAdjust="spacingAndGlyphs" transform="translate(193.80,424.00) rotate(-45)">CTL</text>
<text x="0" y="0" font-size="8.3" fill="#222" text-anchor="end" textLength="32.30" lengthAdjust="spacingAndGlyphs" transform="translate(210.90,423.60) rotate(-45)">CDKN1A</text>
<line x1="322.20" y1="358.40" x2="322.20" y2="418.00" stroke="#111" stroke-width="1.3" />
<line x1="319.40" y1="359.00" x2="322.20" y2="359.00" stroke="#111" stroke-width="1.1" />
<text x="317.40" y="361.70" font-size="8.0" text-anchor="end" font-weight="normal" font-style="normal" fill="#222" textLength="15.60" lengthAdjust="spacingAndGlyphs" >0.08</text>
<line x1="319.40" y1="373.70" x2="322.20" y2="373.70" stroke="#111" stroke-width="1.1" />
<text x="317.40" y="376.40" font-size="8.0" text-anchor="end" font-weight="normal" font-style="normal" fill="#222" textLength="15.60" lengthAdjust="spacingAndGlyphs" >0.06</text>
<line x1="319.40" y1="388.40" x2="322.20" y2="388.40" stroke="#111" stroke-width="1.1" />
<text x="317.40" y="391.10" font-size="8.0" text-anchor="end" font-weight="normal" font-style="normal" fill="#222" textLength="15.60" lengthAdjust="spacingAndGlyphs" >0.04</text>
<line x1="319.40" y1="402.90" x2="322.20" y2="402.90" stroke="#111" stroke-width="1.1" />
<text x="317.40" y="405.60" font-size="8.0" text-anchor="end" font-weight="normal" font-style="normal" fill="#222" textLength="15.60" lengthAdjust="spacingAndGlyphs" >0.02</text>
<line x1="319.40" y1="417.40" x2="322.20" y2="417.40" stroke="#111" stroke-width="1.1" />
<text x="317.40" y="420.10" font-size="8.0" text-anchor="end" font-weight="normal" font-style="normal" fill="#222" textLength="15.60" lengthAdjust="spacingAndGlyphs" >0.00</text>
<text x="0" y="0" font-size="8.8" fill="#222" textLength="25.60" lengthAdjust="spacingAndGlyphs" transform="translate(295.40,402.40) rotate(-90)">% Input</text>
<rect x="321.60" y="416.90" width="76.90" height="1.40" fill="#111" />
<line x1="341.20" y1="417.60" x2="341.20" y2="420.30" stroke="#111" stroke-width="1.0" />
<line x1="379.20" y1="417.60" x2="379.20" y2="420.30" stroke="#111" stroke-width="1.0" />
<rect x="329.20" y="415.80" width="10.60" height="1.20" fill="#c80014" />
<line x1="334.50" y1="414.30" x2="334.50" y2="415.80" stroke="#111" stroke-width="1.0" />
<line x1="332.30" y1="414.30" x2="336.70" y2="414.30" stroke="#111" stroke-width="1.1" />
<rect x="343.70" y="403.00" width="10.10" height="14.00" fill="#0234aa" />
<line x1="348.70" y1="401.90" x2="348.70" y2="403.00" stroke="#111" stroke-width="1.0" />
<line x1="346.50" y1="401.90" x2="350.90" y2="401.90" stroke="#111" stroke-width="1.1" />
<rect x="367.30" y="407.50" width="9.60" height="9.50" fill="#c80014" />
<line x1="372.10" y1="407.10" x2="372.10" y2="407.50" stroke="#111" stroke-width="1.0" />
<line x1="370.30" y1="407.10" x2="373.90" y2="407.10" stroke="#111" stroke-width="1.1" />
<rect x="381.20" y="406.90" width="9.60" height="10.10" fill="#0234aa" />
<line x1="386.00" y1="401.80" x2="386.00" y2="406.90" stroke="#111" stroke-width="1.0" />
<line x1="383.50" y1="401.80" x2="388.50" y2="401.80" stroke="#111" stroke-width="1.1" />
<text x="327.00" y="429.00" font-size="8.5" text-anchor="start" font-weight="normal" font-style="normal" fill="#222" textLength="32.60" lengthAdjust="spacingAndGlyphs" >CDKN2D</text>
<text x="343.00" y="438.30" font-size="7.9" text-anchor="middle" font-weight="normal" font-style="normal" fill="#222" textLength="18.00" lengthAdjust="spacingAndGlyphs" >(p19)</text>
<text x="372.00" y="429.00" font-size="8.5" text-anchor="start" font-weight="normal" font-style="normal" fill="#222" textLength="14.30" lengthAdjust="spacingAndGlyphs" >CTL</text>
<rect x="378.80" y="363.80" width="6.20" height="4.80" fill="#c80014" />
<rect x="378.80" y="371.20" width="6.20" height="4.70" fill="#0234aa" />
<text x="386.60" y="368.70" font-size="7.2" text-anchor="start" font-weight="normal" font-style="normal" fill="#222" textLength="13.50" lengthAdjust="spacingAndGlyphs" >IGG</text>
<text x="386.60" y="376.00" font-size="7.2" text-anchor="start" font-weight="normal" font-style="normal" fill="#222" textLength="18.30" lengthAdjust="spacingAndGlyphs" >EZH2</text>
<line x1="440.50" y1="353.60" x2="440.50" y2="416.20" stroke="#111" stroke-width="1.3" />
<line x1="437.10" y1="354.00" x2="440.50" y2="354.00" stroke="#111" stroke-width="1.1" />
<text x="434.90" y="356.30" font-size="7.8" text-anchor="end" font-weight="normal" font-style="normal" fill="#222" textLength="3.70" lengthAdjust="spacingAndGlyphs" >4</text>
<line x1="437.10" y1="369.40" x2="440.50" y2="369.40" stroke="#111" stroke-width="1.1" />
<text x="434.90" y="371.70" font-size="7.8" text-anchor="end" font-weight="normal" font-style="normal" fill="#222" textLength="3.70" lengthAdjust="spacingAndGlyphs" >3</text>
<line x1="437.10" y1="384.70" x2="440.50" y2="384.70" stroke="#111" stroke-width="1.1" />
<text x="434.90" y="387.00" font-size="7.8" text-anchor="end" font-weight="normal" font-style="normal" fill="#222" textLength="3.70" lengthAdjust="spacingAndGlyphs" >2</text>
<line x1="437.10" y1="400.20" x2="440.50" y2="400.20" stroke="#111" stroke-width="1.1" />
<text x="434.90" y="402.50" font-size="7.8" text-anchor="end" font-weight="normal" font-style="normal" fill="#222" textLength="3.70" lengthAdjust="spacingAndGlyphs" >1</text>
<line x1="437.10" y1="415.60" x2="440.50" y2="415.60" stroke="#111" stroke-width="1.1" />
<text x="434.90" y="417.90" font-size="7.8" text-anchor="end" font-weight="normal" font-style="normal" fill="#222" textLength="3.70" lengthAdjust="spacingAndGlyphs" >0</text>
<text x="0" y="0" font-size="8.3" fill="#222" textLength="60.50" lengthAdjust="spacingAndGlyphs" transform="translate(427.00,418.00) rotate(-90)">Normalized to CTL</text>
<rect x="439.90" y="415.10" width="37.50" height="1.40" fill="#111" />
<line x1="449.80" y1="415.80" x2="449.80" y2="418.90" stroke="#111" stroke-width="1.0" />
<line x1="468.80" y1="415.80" x2="468.80" y2="418.90" stroke="#111" stroke-width="1.0" />
<rect x="443.40" y="399.90" width="12.70" height="15.40" fill="#c80014" />
<rect x="462.50" y="387.90" width="12.70" height="27.40" fill="#0234aa" />
<line x1="467.80" y1="384.00" x2="467.80" y2="387.90" stroke="#111" stroke-width="1.0" />
<line x1="464.80" y1="384.00" x2="470.80" y2="384.00" stroke="#111" stroke-width="1.1" />
<text x="456.10" y="384.90" font-size="7.0" text-anchor="start" font-weight="normal" font-style="normal" fill="#222" textLength="7.70" lengthAdjust="spacingAndGlyphs" >ns</text>
<text x="0" y="0" font-size="8.3" fill="#222" text-anchor="end" textLength="14.20" lengthAdjust="spacingAndGlyphs" transform="translate(453.00,423.60) rotate(-45)">CTL</text>
<text x="0" y="0" font-size="8.3" fill="#222" text-anchor="end" textLength="31.80" lengthAdjust="spacingAndGlyphs" transform="translate(472.20,424.90) rotate(-45)">CDKN2D</text>
<rect x="0" y="0" width="520" height="1.25" fill="#000"/><rect x="0" y="0" width="1.25" height="452" fill="#000"/><rect x="518.5" y="0" width="1.5" height="452" fill="#000"/><rect x="0" y="450.4" width="520" height="1.6" fill="#000"/>
</svg>
</body></html>
